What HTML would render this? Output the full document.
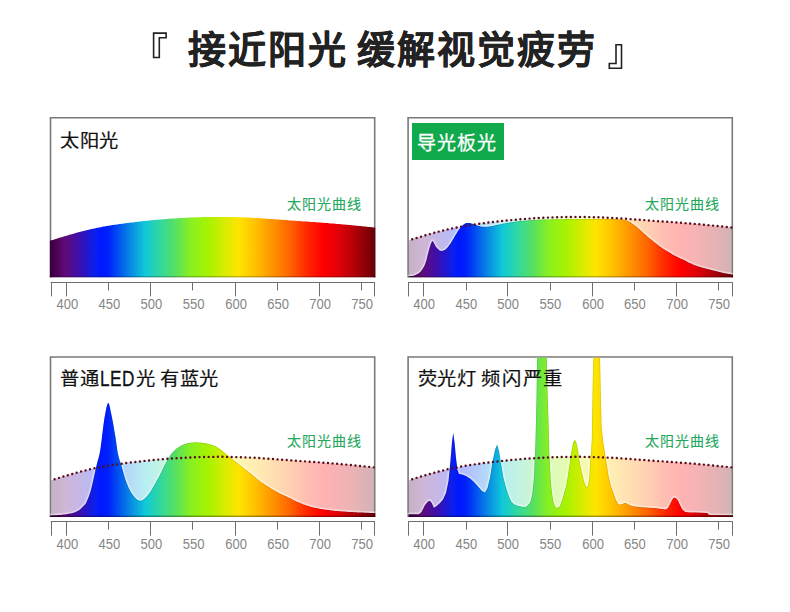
<!DOCTYPE html>
<html lang="zh-CN"><head><meta charset="utf-8"><title>接近阳光 缓解视觉疲劳</title><style>html,body{margin:0;padding:0;background:#fff}body{width:790px;height:612px;overflow:hidden;font-family:"Liberation Sans",sans-serif}svg{display:block}</style></head><body>
<svg width="790" height="612" viewBox="0 0 790 612"><defs><linearGradient id="g" gradientUnits="userSpaceOnUse" x1="50.5" y1="0" x2="374.7" y2="0"><stop offset="0.0000" stop-color="#38003f"/><stop offset="0.0139" stop-color="#48004e"/><stop offset="0.0447" stop-color="#600c78"/><stop offset="0.0922" stop-color="#3a10b0"/><stop offset="0.1391" stop-color="#0820f0"/><stop offset="0.1545" stop-color="#0018ff"/><stop offset="0.1774" stop-color="#0020fc"/><stop offset="0.2014" stop-color="#0044f4"/><stop offset="0.2452" stop-color="#0888e4"/><stop offset="0.2915" stop-color="#10c8d8"/><stop offset="0.3378" stop-color="#30d8a0"/><stop offset="0.3859" stop-color="#58e060"/><stop offset="0.4328" stop-color="#88f020"/><stop offset="0.4920" stop-color="#acf200"/><stop offset="0.5382" stop-color="#d8ec00"/><stop offset="0.5796" stop-color="#ffe400"/><stop offset="0.6326" stop-color="#ffc000"/><stop offset="0.6795" stop-color="#ff9800"/><stop offset="0.7387" stop-color="#ff6400"/><stop offset="0.7890" stop-color="#ff2a00"/><stop offset="0.8393" stop-color="#ff0000"/><stop offset="0.8899" stop-color="#e00008"/><stop offset="0.9402" stop-color="#b00008"/><stop offset="1.0000" stop-color="#680008"/></linearGradient></defs><rect width="790" height="612" fill="#fff"/><path d="M153.6,33.1H166.1V37.7H159.3V57.5H153.6Z" fill="none" stroke="#222" stroke-width="1.6"/><path d="M616,44.7H621.5V68.2H609.3V63.5H616Z" fill="none" stroke="#222" stroke-width="1.6"/><text x="187.5" y="63.2" font-size="38" font-weight="bold" fill="#222" stroke="#222" stroke-width="0.2" letter-spacing="2.1">接近阳光</text><text x="356.6" y="63.2" font-size="38" font-weight="bold" fill="#222" stroke="#222" stroke-width="0.2" letter-spacing="2.1">缓解视觉疲劳</text><g transform="translate(0,0)"><path d="M50.5,277.6V117.7H374.7V277.6" stroke="#7a7a7a" stroke-width="1.6" fill="none"/><clipPath id="c0"><rect x="49.7" y="118.5" width="325.8" height="159.1"/></clipPath><g clip-path="url(#c0)"><path d="M49.7,277.6L49.7,240.6L50.5,240.6L51.5,240.3L52.5,240L53.5,239.7L54.5,239.4L55.5,239.1L56.5,238.7L57.5,238.4L58.5,238.1L59.5,237.8L60.5,237.5L61.5,237.2L62.5,236.9L63.5,236.6L64.5,236.3L65.5,236L66.5,235.7L67.5,235.4L68.5,235.1L69.5,234.8L70.5,234.5L71.5,234.3L72.5,234L73.5,233.7L74.5,233.4L75.5,233.1L76.5,232.8L77.5,232.6L78.5,232.3L79.5,232L80.5,231.8L81.5,231.5L82.5,231.2L83.5,231L84.5,230.7L85.5,230.5L86.5,230.2L87.5,230L88.5,229.8L89.5,229.5L90.5,229.3L91.5,229.1L92.5,228.9L93.5,228.6L94.5,228.4L95.5,228.2L96.5,228L97.5,227.8L98.5,227.6L99.5,227.4L100.5,227.2L101.5,227L102.5,226.8L103.5,226.6L104.5,226.5L105.5,226.3L106.5,226.1L107.5,225.9L108.5,225.8L109.5,225.6L110.5,225.4L111.5,225.3L112.5,225.1L113.5,225L114.5,224.8L115.5,224.7L116.5,224.5L117.5,224.4L118.5,224.2L119.5,224.1L120.5,223.9L121.5,223.8L122.5,223.7L123.5,223.5L124.5,223.4L125.5,223.3L126.5,223.1L127.5,223L128.5,222.9L129.5,222.8L130.5,222.6L131.5,222.5L132.5,222.4L133.5,222.3L134.5,222.2L135.5,222L136.5,221.9L137.5,221.8L138.5,221.7L139.5,221.6L140.5,221.5L141.5,221.3L142.5,221.2L143.5,221.1L144.5,221L145.5,220.9L146.5,220.8L147.5,220.7L148.5,220.6L149.5,220.5L150.5,220.4L151.5,220.3L152.5,220.2L153.5,220.1L154.5,220L155.5,219.9L156.5,219.8L157.5,219.7L158.5,219.7L159.5,219.6L160.5,219.5L161.5,219.4L162.5,219.3L163.5,219.2L164.5,219.2L165.5,219.1L166.5,219L167.5,218.9L168.5,218.8L169.5,218.8L170.5,218.7L171.5,218.6L172.5,218.6L173.5,218.5L174.5,218.4L175.5,218.4L176.5,218.3L177.5,218.2L178.5,218.2L179.5,218.1L180.5,218.1L181.5,218L182.5,217.9L183.5,217.9L184.5,217.8L185.5,217.8L186.5,217.7L187.5,217.7L188.5,217.6L189.5,217.6L190.5,217.6L191.5,217.5L192.5,217.5L193.5,217.4L194.5,217.4L195.5,217.4L196.5,217.3L197.5,217.3L198.5,217.3L199.5,217.2L200.5,217.2L201.5,217.2L202.5,217.1L203.5,217.1L204.5,217.1L205.5,217.1L206.5,217.1L207.5,217L208.5,217L209.5,217L210.5,217L211.5,217L212.5,217L213.5,217L214.5,217L215.5,216.9L216.5,216.9L217.5,216.9L218.5,216.9L219.5,216.9L220.5,216.9L221.5,216.9L222.5,216.9L223.5,216.9L224.5,217L225.5,217L226.5,217L227.5,217L228.5,217L229.5,217L230.5,217L231.5,217.1L232.5,217.1L233.5,217.1L234.5,217.1L235.5,217.1L236.5,217.2L237.5,217.2L238.5,217.2L239.5,217.3L240.5,217.3L241.5,217.3L242.5,217.4L243.5,217.4L244.5,217.4L245.5,217.5L246.5,217.5L247.5,217.6L248.5,217.6L249.5,217.7L250.5,217.7L251.5,217.8L252.5,217.8L253.5,217.9L254.5,217.9L255.5,218L256.5,218L257.5,218.1L258.5,218.1L259.5,218.2L260.5,218.3L261.5,218.3L262.5,218.4L263.5,218.5L264.5,218.5L265.5,218.6L266.5,218.7L267.5,218.7L268.5,218.8L269.5,218.9L270.5,218.9L271.5,219L272.5,219.1L273.5,219.2L274.5,219.2L275.5,219.3L276.5,219.4L277.5,219.5L278.5,219.5L279.5,219.6L280.5,219.7L281.5,219.8L282.5,219.8L283.5,219.9L284.5,220L285.5,220.1L286.5,220.1L287.5,220.2L288.5,220.3L289.5,220.4L290.5,220.4L291.5,220.5L292.5,220.6L293.5,220.7L294.5,220.7L295.5,220.8L296.5,220.9L297.5,220.9L298.5,221L299.5,221.1L300.5,221.2L301.5,221.2L302.5,221.3L303.5,221.4L304.5,221.4L305.5,221.5L306.5,221.6L307.5,221.6L308.5,221.7L309.5,221.8L310.5,221.9L311.5,221.9L312.5,222L313.5,222.1L314.5,222.1L315.5,222.2L316.5,222.3L317.5,222.4L318.5,222.4L319.5,222.5L320.5,222.6L321.5,222.7L322.5,222.7L323.5,222.8L324.5,222.9L325.5,223L326.5,223L327.5,223.1L328.5,223.2L329.5,223.3L330.5,223.4L331.5,223.4L332.5,223.5L333.5,223.6L334.5,223.7L335.5,223.8L336.5,223.9L337.5,223.9L338.5,224L339.5,224.1L340.5,224.2L341.5,224.3L342.5,224.4L343.5,224.5L344.5,224.6L345.5,224.7L346.5,224.7L347.5,224.8L348.5,224.9L349.5,225L350.5,225.1L351.5,225.2L352.5,225.3L353.5,225.4L354.5,225.5L355.5,225.6L356.5,225.7L357.5,225.8L358.5,225.9L359.5,226L360.5,226.1L361.5,226.2L362.5,226.3L363.5,226.4L364.5,226.5L365.5,226.6L366.5,226.7L367.5,226.8L368.5,226.9L369.5,227L370.5,227.1L371.5,227.2L372.5,227.3L373.5,227.4L374.5,227.5L374.7,227.5L375.5,227.5L375.5,277.6Z" fill="url(#g)"/><rect x="49.7" y="276.2" width="325.8" height="1.4" fill="#000" opacity="0.3"/></g><text x="287" y="208.8" font-size="14" fill="#22a85c" stroke="#22a85c" stroke-width="0.1" letter-spacing="1.0">太阳光曲线</text><text transform="translate(60,146.5) scale(1.07,1)" font-size="18" fill="#111" stroke="#111" stroke-width="0.2" letter-spacing="-0.1">太阳光</text><g stroke="#6e6e6e" stroke-width="1.05" fill="none"><path d="M50.7,282.5H375"/><path d="M51.5,282V296.4"/><path d="M66.5,282V296.4"/><path d="M108.5,282V290.4"/><path d="M150.5,282V296.4"/><path d="M192.5,282V290.4"/><path d="M235.5,282V296.4"/><path d="M277.5,282V290.4"/><path d="M319.5,282V296.4"/><path d="M361.5,282V290.4"/><path d="M374.5,282V296.4"/></g><g font-size="14.5" fill="#858585" text-anchor="middle"><text transform="translate(67.3,309.2) scale(0.9,1)">400</text><text transform="translate(109.4,309.2) scale(0.9,1)">450</text><text transform="translate(151.3,309.2) scale(0.9,1)">500</text><text transform="translate(193.6,309.2) scale(0.9,1)">550</text><text transform="translate(236.2,309.2) scale(0.9,1)">600</text><text transform="translate(278.1,309.2) scale(0.9,1)">650</text><text transform="translate(320.2,309.2) scale(0.9,1)">700</text><text transform="translate(362.2,309.2) scale(0.9,1)">750</text></g></g><g transform="translate(357.6,0)"><path d="M50.5,277.6V117.7H374.7V277.6" stroke="#7a7a7a" stroke-width="1.6" fill="none"/><clipPath id="c1"><rect x="49.7" y="118.5" width="325.8" height="159.1"/></clipPath><g clip-path="url(#c1)"><path d="M51.3,277.6L51.3,240.6L51.5,240.3L52.5,240L53.5,239.7L54.5,239.4L55.5,239.1L56.5,238.7L57.5,238.4L58.5,238.1L59.5,237.8L60.5,237.5L61.5,237.2L62.5,236.9L63.5,236.6L64.5,236.3L65.5,236L66.5,235.7L67.5,235.4L68.5,235.1L69.5,234.8L70.5,234.5L71.5,234.3L72.5,234L73.5,233.7L74.5,233.4L75.5,233.1L76.5,232.8L77.5,232.6L78.5,232.3L79.5,232L80.5,231.8L81.5,231.5L82.5,231.2L83.5,231L84.5,230.7L85.5,230.5L86.5,230.2L87.5,230L88.5,229.8L89.5,229.5L90.5,229.3L91.5,229.1L92.5,228.9L93.5,228.6L94.5,228.4L95.5,228.2L96.5,228L97.5,227.8L98.5,227.6L99.5,227.4L100.5,227.2L101.5,227L102.5,226.8L103.5,226.6L104.5,226.5L105.5,226.3L106.5,226.1L107.5,225.9L108.5,225.8L109.5,225.6L110.5,225.4L111.5,225.3L112.5,225.1L113.5,225L114.5,224.8L115.5,224.7L116.5,224.5L117.5,224.4L118.5,224.2L119.5,224.1L120.5,223.9L121.5,223.8L122.5,223.7L123.5,223.5L124.5,223.4L125.5,223.3L126.5,223.1L127.5,223L128.5,222.9L129.5,222.8L130.5,222.6L131.5,222.5L132.5,222.4L133.5,222.3L134.5,222.2L135.5,222L136.5,221.9L137.5,221.8L138.5,221.7L139.5,221.6L140.5,221.5L141.5,221.3L142.5,221.2L143.5,221.1L144.5,221L145.5,220.9L146.5,220.8L147.5,220.7L148.5,220.6L149.5,220.5L150.5,220.4L151.5,220.3L152.5,220.2L153.5,220.1L154.5,220L155.5,219.9L156.5,219.8L157.5,219.7L158.5,219.7L159.5,219.6L160.5,219.5L161.5,219.4L162.5,219.3L163.5,219.2L164.5,219.2L165.5,219.1L166.5,219L167.5,218.9L168.5,218.8L169.5,218.8L170.5,218.7L171.5,218.6L172.5,218.6L173.5,218.5L174.5,218.4L175.5,218.4L176.5,218.3L177.5,218.2L178.5,218.2L179.5,218.1L180.5,218.1L181.5,218L182.5,217.9L183.5,217.9L184.5,217.8L185.5,217.8L186.5,217.7L187.5,217.7L188.5,217.6L189.5,217.6L190.5,217.6L191.5,217.5L192.5,217.5L193.5,217.4L194.5,217.4L195.5,217.4L196.5,217.3L197.5,217.3L198.5,217.3L199.5,217.2L200.5,217.2L201.5,217.2L202.5,217.1L203.5,217.1L204.5,217.1L205.5,217.1L206.5,217.1L207.5,217L208.5,217L209.5,217L210.5,217L211.5,217L212.5,217L213.5,217L214.5,217L215.5,216.9L216.5,216.9L217.5,216.9L218.5,216.9L219.5,216.9L220.5,216.9L221.5,216.9L222.5,216.9L223.5,216.9L224.5,217L225.5,217L226.5,217L227.5,217L228.5,217L229.5,217L230.5,217L231.5,217.1L232.5,217.1L233.5,217.1L234.5,217.1L235.5,217.1L236.5,217.2L237.5,217.2L238.5,217.2L239.5,217.3L240.5,217.3L241.5,217.3L242.5,217.4L243.5,217.4L244.5,217.4L245.5,217.5L246.5,217.5L247.5,217.6L248.5,217.6L249.5,217.7L250.5,217.7L251.5,217.8L252.5,217.8L253.5,217.9L254.5,217.9L255.5,218L256.5,218L257.5,218.1L258.5,218.1L259.5,218.2L260.5,218.3L261.5,218.3L262.5,218.4L263.5,218.5L264.5,218.5L265.5,218.6L266.5,218.7L267.5,218.7L268.5,218.8L269.5,218.9L270.5,218.9L271.5,219L272.5,219.1L273.5,219.2L274.5,219.2L275.5,219.3L276.5,219.4L277.5,219.5L278.5,219.5L279.5,219.6L280.5,219.7L281.5,219.8L282.5,219.8L283.5,219.9L284.5,220L285.5,220.1L286.5,220.1L287.5,220.2L288.5,220.3L289.5,220.4L290.5,220.4L291.5,220.5L292.5,220.6L293.5,220.7L294.5,220.7L295.5,220.8L296.5,220.9L297.5,220.9L298.5,221L299.5,221.1L300.5,221.2L301.5,221.2L302.5,221.3L303.5,221.4L304.5,221.4L305.5,221.5L306.5,221.6L307.5,221.6L308.5,221.7L309.5,221.8L310.5,221.9L311.5,221.9L312.5,222L313.5,222.1L314.5,222.1L315.5,222.2L316.5,222.3L317.5,222.4L318.5,222.4L319.5,222.5L320.5,222.6L321.5,222.7L322.5,222.7L323.5,222.8L324.5,222.9L325.5,223L326.5,223L327.5,223.1L328.5,223.2L329.5,223.3L330.5,223.4L331.5,223.4L332.5,223.5L333.5,223.6L334.5,223.7L335.5,223.8L336.5,223.9L337.5,223.9L338.5,224L339.5,224.1L340.5,224.2L341.5,224.3L342.5,224.4L343.5,224.5L344.5,224.6L345.5,224.7L346.5,224.7L347.5,224.8L348.5,224.9L349.5,225L350.5,225.1L351.5,225.2L352.5,225.3L353.5,225.4L354.5,225.5L355.5,225.6L356.5,225.7L357.5,225.8L358.5,225.9L359.5,226L360.5,226.1L361.5,226.2L362.5,226.3L363.5,226.4L364.5,226.5L365.5,226.6L366.5,226.7L367.5,226.8L368.5,226.9L369.5,227L370.5,227.1L371.5,227.2L372.5,227.3L373.5,227.4L373.9,227.5L373.9,227.5L373.9,277.6Z" fill="url(#g)" opacity="0.3"/><path d="M50.9,277.6L50.9,276.3L51.9,276.3L52.9,276.2L53.9,276.1L54.9,275.9L55.9,275.7L56.9,275.4L57.9,275L58.9,274.6L59.9,274.1L60.9,273.5L61.9,272.7L62.9,271.7L63.9,270.6L64.9,269.1L65.9,267.5L66.9,265.5L67.9,263.1L68.9,259.9L69.9,255.6L70.9,251.7L71.9,248.1L72.9,244.7L73.9,242.2L74.9,241L75.9,242L76.9,244.3L77.9,246L78.9,247.4L79.9,248.6L80.9,249.6L81.9,250.4L82.9,250.7L83.9,250.9L84.9,250.8L85.9,250.6L86.9,250.1L87.9,249.4L88.9,248.6L89.9,247.5L90.9,246.3L91.9,244.8L92.9,243.4L93.9,241.8L94.9,240.2L95.9,238.5L96.9,236.8L97.9,235.1L98.9,233.5L99.9,231.8L100.9,230.3L101.9,228.9L102.9,227.6L103.9,226.5L104.9,225.5L105.9,224.6L106.9,223.9L107.9,223.3L108.9,223L109.9,223L110.9,223L111.9,223L112.9,223.2L113.9,223.5L114.9,223.8L115.9,224.2L116.9,224.5L117.9,224.8L118.9,225.2L119.9,225.6L120.9,225.9L121.9,226.1L122.9,226.4L123.9,226.6L124.9,226.7L125.9,226.7L126.9,226.8L127.9,226.8L128.9,226.8L129.9,226.7L130.9,226.6L131.9,226.4L132.9,226.3L133.9,226.1L134.9,225.9L135.9,225.7L136.9,225.5L137.9,225.3L138.9,225.1L139.9,224.8L140.9,224.6L141.9,224.4L142.9,224.2L143.9,224L144.9,223.8L145.9,223.6L146.9,223.4L147.9,223.2L148.9,223L149.9,222.8L150.9,222.7L151.9,222.5L152.9,222.3L153.9,222.2L154.9,222L155.9,221.9L156.9,221.7L157.9,221.6L158.9,221.5L159.9,221.4L160.9,221.2L161.9,221.1L162.9,221L163.9,220.9L164.9,220.8L165.9,220.7L166.9,220.6L167.9,220.5L168.9,220.4L169.9,220.4L170.9,220.3L171.9,220.2L172.9,220.2L173.9,220.1L174.9,220.1L175.9,220L176.9,220L177.9,219.9L178.9,219.9L179.9,219.8L180.9,219.8L181.9,219.7L182.9,219.7L183.9,219.6L184.9,219.6L185.9,219.5L186.9,219.5L187.9,219.5L188.9,219.5L189.9,219.4L190.9,219.4L191.9,219.4L192.9,219.4L193.9,219.3L194.9,219.3L195.9,219.3L196.9,219.3L197.9,219.3L198.9,219.3L199.9,219.2L200.9,219.2L201.9,219.2L202.9,219.2L203.9,219.2L204.9,219.2L205.9,219.2L206.9,219.1L207.9,219.1L208.9,219.1L209.9,219.1L210.9,219.1L211.9,219.1L212.9,219.1L213.9,219.1L214.9,219L215.9,219L216.9,219L217.9,219L218.9,219L219.9,219L220.9,219L221.9,219L222.9,219L223.9,219L224.9,219L225.9,219L226.9,219L227.9,219L228.9,219L229.9,219L230.9,219L231.9,219L232.9,219L233.9,219L234.9,219L235.9,219L236.9,219L237.9,219L238.9,219L239.9,219L240.9,219L241.9,219L242.9,219L243.9,219L244.9,219L245.9,219L246.9,219L247.9,219L248.9,219L249.9,219L250.9,219L251.9,219L252.9,219L253.9,219.1L254.9,219.1L255.9,219.1L256.9,219.1L257.9,219.1L258.9,219.1L259.9,219.2L260.9,219.2L261.9,219.3L262.9,219.3L263.9,219.4L264.9,219.5L265.9,219.7L266.9,219.9L267.9,220.1L268.9,220.4L269.9,220.8L270.9,221.2L271.9,221.7L272.9,222.3L273.9,222.9L274.9,223.7L275.9,224.4L276.9,225.1L277.9,225.9L278.9,226.7L279.9,227.5L280.9,228.4L281.9,229.3L282.9,230.2L283.9,231.1L284.9,232L285.9,232.9L286.9,233.8L287.9,234.7L288.9,235.6L289.9,236.5L290.9,237.4L291.9,238.2L292.9,239L293.9,239.8L294.9,240.6L295.9,241.4L296.9,242.2L297.9,243L298.9,243.8L299.9,244.6L300.9,245.4L301.9,246.1L302.9,246.9L303.9,247.6L304.9,248.3L305.9,248.9L306.9,249.6L307.9,250.2L308.9,250.7L309.9,251.3L310.9,251.9L311.9,252.5L312.9,253.1L313.9,253.8L314.9,254.4L315.9,255L316.9,255.5L317.9,256L318.9,256.5L319.9,257L320.9,257.5L321.9,257.9L322.9,258.4L323.9,258.9L324.9,259.3L325.9,259.8L326.9,260.3L327.9,260.8L328.9,261.3L329.9,261.9L330.9,262.4L331.9,262.9L332.9,263.3L333.9,263.8L334.9,264.2L335.9,264.7L336.9,265.1L337.9,265.5L338.9,265.8L339.9,266.2L340.9,266.5L341.9,266.8L342.9,267.1L343.9,267.4L344.9,267.7L345.9,268L346.9,268.3L347.9,268.5L348.9,268.8L349.9,269L350.9,269.3L351.9,269.5L352.9,269.8L353.9,270L354.9,270.3L355.9,270.5L356.9,270.8L357.9,271L358.9,271.3L359.9,271.5L360.9,271.8L361.9,272L362.9,272.3L363.9,272.5L364.9,272.7L365.9,272.9L366.9,273.2L367.9,273.4L368.9,273.6L369.9,273.8L370.9,274L371.9,274.1L372.9,274.3L373.9,274.5L374.6,274.6L375.5,274.6L375.5,277.6Z" fill="none" stroke="#fff" stroke-width="3.6" stroke-opacity="0.35" stroke-linejoin="round"/><path d="M50.9,277.6L50.9,276.3L51.9,276.3L52.9,276.2L53.9,276.1L54.9,275.9L55.9,275.7L56.9,275.4L57.9,275L58.9,274.6L59.9,274.1L60.9,273.5L61.9,272.7L62.9,271.7L63.9,270.6L64.9,269.1L65.9,267.5L66.9,265.5L67.9,263.1L68.9,259.9L69.9,255.6L70.9,251.7L71.9,248.1L72.9,244.7L73.9,242.2L74.9,241L75.9,242L76.9,244.3L77.9,246L78.9,247.4L79.9,248.6L80.9,249.6L81.9,250.4L82.9,250.7L83.9,250.9L84.9,250.8L85.9,250.6L86.9,250.1L87.9,249.4L88.9,248.6L89.9,247.5L90.9,246.3L91.9,244.8L92.9,243.4L93.9,241.8L94.9,240.2L95.9,238.5L96.9,236.8L97.9,235.1L98.9,233.5L99.9,231.8L100.9,230.3L101.9,228.9L102.9,227.6L103.9,226.5L104.9,225.5L105.9,224.6L106.9,223.9L107.9,223.3L108.9,223L109.9,223L110.9,223L111.9,223L112.9,223.2L113.9,223.5L114.9,223.8L115.9,224.2L116.9,224.5L117.9,224.8L118.9,225.2L119.9,225.6L120.9,225.9L121.9,226.1L122.9,226.4L123.9,226.6L124.9,226.7L125.9,226.7L126.9,226.8L127.9,226.8L128.9,226.8L129.9,226.7L130.9,226.6L131.9,226.4L132.9,226.3L133.9,226.1L134.9,225.9L135.9,225.7L136.9,225.5L137.9,225.3L138.9,225.1L139.9,224.8L140.9,224.6L141.9,224.4L142.9,224.2L143.9,224L144.9,223.8L145.9,223.6L146.9,223.4L147.9,223.2L148.9,223L149.9,222.8L150.9,222.7L151.9,222.5L152.9,222.3L153.9,222.2L154.9,222L155.9,221.9L156.9,221.7L157.9,221.6L158.9,221.5L159.9,221.4L160.9,221.2L161.9,221.1L162.9,221L163.9,220.9L164.9,220.8L165.9,220.7L166.9,220.6L167.9,220.5L168.9,220.4L169.9,220.4L170.9,220.3L171.9,220.2L172.9,220.2L173.9,220.1L174.9,220.1L175.9,220L176.9,220L177.9,219.9L178.9,219.9L179.9,219.8L180.9,219.8L181.9,219.7L182.9,219.7L183.9,219.6L184.9,219.6L185.9,219.5L186.9,219.5L187.9,219.5L188.9,219.5L189.9,219.4L190.9,219.4L191.9,219.4L192.9,219.4L193.9,219.3L194.9,219.3L195.9,219.3L196.9,219.3L197.9,219.3L198.9,219.3L199.9,219.2L200.9,219.2L201.9,219.2L202.9,219.2L203.9,219.2L204.9,219.2L205.9,219.2L206.9,219.1L207.9,219.1L208.9,219.1L209.9,219.1L210.9,219.1L211.9,219.1L212.9,219.1L213.9,219.1L214.9,219L215.9,219L216.9,219L217.9,219L218.9,219L219.9,219L220.9,219L221.9,219L222.9,219L223.9,219L224.9,219L225.9,219L226.9,219L227.9,219L228.9,219L229.9,219L230.9,219L231.9,219L232.9,219L233.9,219L234.9,219L235.9,219L236.9,219L237.9,219L238.9,219L239.9,219L240.9,219L241.9,219L242.9,219L243.9,219L244.9,219L245.9,219L246.9,219L247.9,219L248.9,219L249.9,219L250.9,219L251.9,219L252.9,219L253.9,219.1L254.9,219.1L255.9,219.1L256.9,219.1L257.9,219.1L258.9,219.1L259.9,219.2L260.9,219.2L261.9,219.3L262.9,219.3L263.9,219.4L264.9,219.5L265.9,219.7L266.9,219.9L267.9,220.1L268.9,220.4L269.9,220.8L270.9,221.2L271.9,221.7L272.9,222.3L273.9,222.9L274.9,223.7L275.9,224.4L276.9,225.1L277.9,225.9L278.9,226.7L279.9,227.5L280.9,228.4L281.9,229.3L282.9,230.2L283.9,231.1L284.9,232L285.9,232.9L286.9,233.8L287.9,234.7L288.9,235.6L289.9,236.5L290.9,237.4L291.9,238.2L292.9,239L293.9,239.8L294.9,240.6L295.9,241.4L296.9,242.2L297.9,243L298.9,243.8L299.9,244.6L300.9,245.4L301.9,246.1L302.9,246.9L303.9,247.6L304.9,248.3L305.9,248.9L306.9,249.6L307.9,250.2L308.9,250.7L309.9,251.3L310.9,251.9L311.9,252.5L312.9,253.1L313.9,253.8L314.9,254.4L315.9,255L316.9,255.5L317.9,256L318.9,256.5L319.9,257L320.9,257.5L321.9,257.9L322.9,258.4L323.9,258.9L324.9,259.3L325.9,259.8L326.9,260.3L327.9,260.8L328.9,261.3L329.9,261.9L330.9,262.4L331.9,262.9L332.9,263.3L333.9,263.8L334.9,264.2L335.9,264.7L336.9,265.1L337.9,265.5L338.9,265.8L339.9,266.2L340.9,266.5L341.9,266.8L342.9,267.1L343.9,267.4L344.9,267.7L345.9,268L346.9,268.3L347.9,268.5L348.9,268.8L349.9,269L350.9,269.3L351.9,269.5L352.9,269.8L353.9,270L354.9,270.3L355.9,270.5L356.9,270.8L357.9,271L358.9,271.3L359.9,271.5L360.9,271.8L361.9,272L362.9,272.3L363.9,272.5L364.9,272.7L365.9,272.9L366.9,273.2L367.9,273.4L368.9,273.6L369.9,273.8L370.9,274L371.9,274.1L372.9,274.3L373.9,274.5L374.6,274.6L375.5,274.6L375.5,277.6Z" fill="none" stroke="#fff" stroke-width="1.6" stroke-opacity="0.3" stroke-linejoin="round"/><clipPath id="s1"><path d="M50.9,277.6L50.9,276.3L51.9,276.3L52.9,276.2L53.9,276.1L54.9,275.9L55.9,275.7L56.9,275.4L57.9,275L58.9,274.6L59.9,274.1L60.9,273.5L61.9,272.7L62.9,271.7L63.9,270.6L64.9,269.1L65.9,267.5L66.9,265.5L67.9,263.1L68.9,259.9L69.9,255.6L70.9,251.7L71.9,248.1L72.9,244.7L73.9,242.2L74.9,241L75.9,242L76.9,244.3L77.9,246L78.9,247.4L79.9,248.6L80.9,249.6L81.9,250.4L82.9,250.7L83.9,250.9L84.9,250.8L85.9,250.6L86.9,250.1L87.9,249.4L88.9,248.6L89.9,247.5L90.9,246.3L91.9,244.8L92.9,243.4L93.9,241.8L94.9,240.2L95.9,238.5L96.9,236.8L97.9,235.1L98.9,233.5L99.9,231.8L100.9,230.3L101.9,228.9L102.9,227.6L103.9,226.5L104.9,225.5L105.9,224.6L106.9,223.9L107.9,223.3L108.9,223L109.9,223L110.9,223L111.9,223L112.9,223.2L113.9,223.5L114.9,223.8L115.9,224.2L116.9,224.5L117.9,224.8L118.9,225.2L119.9,225.6L120.9,225.9L121.9,226.1L122.9,226.4L123.9,226.6L124.9,226.7L125.9,226.7L126.9,226.8L127.9,226.8L128.9,226.8L129.9,226.7L130.9,226.6L131.9,226.4L132.9,226.3L133.9,226.1L134.9,225.9L135.9,225.7L136.9,225.5L137.9,225.3L138.9,225.1L139.9,224.8L140.9,224.6L141.9,224.4L142.9,224.2L143.9,224L144.9,223.8L145.9,223.6L146.9,223.4L147.9,223.2L148.9,223L149.9,222.8L150.9,222.7L151.9,222.5L152.9,222.3L153.9,222.2L154.9,222L155.9,221.9L156.9,221.7L157.9,221.6L158.9,221.5L159.9,221.4L160.9,221.2L161.9,221.1L162.9,221L163.9,220.9L164.9,220.8L165.9,220.7L166.9,220.6L167.9,220.5L168.9,220.4L169.9,220.4L170.9,220.3L171.9,220.2L172.9,220.2L173.9,220.1L174.9,220.1L175.9,220L176.9,220L177.9,219.9L178.9,219.9L179.9,219.8L180.9,219.8L181.9,219.7L182.9,219.7L183.9,219.6L184.9,219.6L185.9,219.5L186.9,219.5L187.9,219.5L188.9,219.5L189.9,219.4L190.9,219.4L191.9,219.4L192.9,219.4L193.9,219.3L194.9,219.3L195.9,219.3L196.9,219.3L197.9,219.3L198.9,219.3L199.9,219.2L200.9,219.2L201.9,219.2L202.9,219.2L203.9,219.2L204.9,219.2L205.9,219.2L206.9,219.1L207.9,219.1L208.9,219.1L209.9,219.1L210.9,219.1L211.9,219.1L212.9,219.1L213.9,219.1L214.9,219L215.9,219L216.9,219L217.9,219L218.9,219L219.9,219L220.9,219L221.9,219L222.9,219L223.9,219L224.9,219L225.9,219L226.9,219L227.9,219L228.9,219L229.9,219L230.9,219L231.9,219L232.9,219L233.9,219L234.9,219L235.9,219L236.9,219L237.9,219L238.9,219L239.9,219L240.9,219L241.9,219L242.9,219L243.9,219L244.9,219L245.9,219L246.9,219L247.9,219L248.9,219L249.9,219L250.9,219L251.9,219L252.9,219L253.9,219.1L254.9,219.1L255.9,219.1L256.9,219.1L257.9,219.1L258.9,219.1L259.9,219.2L260.9,219.2L261.9,219.3L262.9,219.3L263.9,219.4L264.9,219.5L265.9,219.7L266.9,219.9L267.9,220.1L268.9,220.4L269.9,220.8L270.9,221.2L271.9,221.7L272.9,222.3L273.9,222.9L274.9,223.7L275.9,224.4L276.9,225.1L277.9,225.9L278.9,226.7L279.9,227.5L280.9,228.4L281.9,229.3L282.9,230.2L283.9,231.1L284.9,232L285.9,232.9L286.9,233.8L287.9,234.7L288.9,235.6L289.9,236.5L290.9,237.4L291.9,238.2L292.9,239L293.9,239.8L294.9,240.6L295.9,241.4L296.9,242.2L297.9,243L298.9,243.8L299.9,244.6L300.9,245.4L301.9,246.1L302.9,246.9L303.9,247.6L304.9,248.3L305.9,248.9L306.9,249.6L307.9,250.2L308.9,250.7L309.9,251.3L310.9,251.9L311.9,252.5L312.9,253.1L313.9,253.8L314.9,254.4L315.9,255L316.9,255.5L317.9,256L318.9,256.5L319.9,257L320.9,257.5L321.9,257.9L322.9,258.4L323.9,258.9L324.9,259.3L325.9,259.8L326.9,260.3L327.9,260.8L328.9,261.3L329.9,261.9L330.9,262.4L331.9,262.9L332.9,263.3L333.9,263.8L334.9,264.2L335.9,264.7L336.9,265.1L337.9,265.5L338.9,265.8L339.9,266.2L340.9,266.5L341.9,266.8L342.9,267.1L343.9,267.4L344.9,267.7L345.9,268L346.9,268.3L347.9,268.5L348.9,268.8L349.9,269L350.9,269.3L351.9,269.5L352.9,269.8L353.9,270L354.9,270.3L355.9,270.5L356.9,270.8L357.9,271L358.9,271.3L359.9,271.5L360.9,271.8L361.9,272L362.9,272.3L363.9,272.5L364.9,272.7L365.9,272.9L366.9,273.2L367.9,273.4L368.9,273.6L369.9,273.8L370.9,274L371.9,274.1L372.9,274.3L373.9,274.5L374.6,274.6L375.5,274.6L375.5,277.6Z"/></clipPath><path d="M50.9,277.6L50.9,276.3L51.9,276.3L52.9,276.2L53.9,276.1L54.9,275.9L55.9,275.7L56.9,275.4L57.9,275L58.9,274.6L59.9,274.1L60.9,273.5L61.9,272.7L62.9,271.7L63.9,270.6L64.9,269.1L65.9,267.5L66.9,265.5L67.9,263.1L68.9,259.9L69.9,255.6L70.9,251.7L71.9,248.1L72.9,244.7L73.9,242.2L74.9,241L75.9,242L76.9,244.3L77.9,246L78.9,247.4L79.9,248.6L80.9,249.6L81.9,250.4L82.9,250.7L83.9,250.9L84.9,250.8L85.9,250.6L86.9,250.1L87.9,249.4L88.9,248.6L89.9,247.5L90.9,246.3L91.9,244.8L92.9,243.4L93.9,241.8L94.9,240.2L95.9,238.5L96.9,236.8L97.9,235.1L98.9,233.5L99.9,231.8L100.9,230.3L101.9,228.9L102.9,227.6L103.9,226.5L104.9,225.5L105.9,224.6L106.9,223.9L107.9,223.3L108.9,223L109.9,223L110.9,223L111.9,223L112.9,223.2L113.9,223.5L114.9,223.8L115.9,224.2L116.9,224.5L117.9,224.8L118.9,225.2L119.9,225.6L120.9,225.9L121.9,226.1L122.9,226.4L123.9,226.6L124.9,226.7L125.9,226.7L126.9,226.8L127.9,226.8L128.9,226.8L129.9,226.7L130.9,226.6L131.9,226.4L132.9,226.3L133.9,226.1L134.9,225.9L135.9,225.7L136.9,225.5L137.9,225.3L138.9,225.1L139.9,224.8L140.9,224.6L141.9,224.4L142.9,224.2L143.9,224L144.9,223.8L145.9,223.6L146.9,223.4L147.9,223.2L148.9,223L149.9,222.8L150.9,222.7L151.9,222.5L152.9,222.3L153.9,222.2L154.9,222L155.9,221.9L156.9,221.7L157.9,221.6L158.9,221.5L159.9,221.4L160.9,221.2L161.9,221.1L162.9,221L163.9,220.9L164.9,220.8L165.9,220.7L166.9,220.6L167.9,220.5L168.9,220.4L169.9,220.4L170.9,220.3L171.9,220.2L172.9,220.2L173.9,220.1L174.9,220.1L175.9,220L176.9,220L177.9,219.9L178.9,219.9L179.9,219.8L180.9,219.8L181.9,219.7L182.9,219.7L183.9,219.6L184.9,219.6L185.9,219.5L186.9,219.5L187.9,219.5L188.9,219.5L189.9,219.4L190.9,219.4L191.9,219.4L192.9,219.4L193.9,219.3L194.9,219.3L195.9,219.3L196.9,219.3L197.9,219.3L198.9,219.3L199.9,219.2L200.9,219.2L201.9,219.2L202.9,219.2L203.9,219.2L204.9,219.2L205.9,219.2L206.9,219.1L207.9,219.1L208.9,219.1L209.9,219.1L210.9,219.1L211.9,219.1L212.9,219.1L213.9,219.1L214.9,219L215.9,219L216.9,219L217.9,219L218.9,219L219.9,219L220.9,219L221.9,219L222.9,219L223.9,219L224.9,219L225.9,219L226.9,219L227.9,219L228.9,219L229.9,219L230.9,219L231.9,219L232.9,219L233.9,219L234.9,219L235.9,219L236.9,219L237.9,219L238.9,219L239.9,219L240.9,219L241.9,219L242.9,219L243.9,219L244.9,219L245.9,219L246.9,219L247.9,219L248.9,219L249.9,219L250.9,219L251.9,219L252.9,219L253.9,219.1L254.9,219.1L255.9,219.1L256.9,219.1L257.9,219.1L258.9,219.1L259.9,219.2L260.9,219.2L261.9,219.3L262.9,219.3L263.9,219.4L264.9,219.5L265.9,219.7L266.9,219.9L267.9,220.1L268.9,220.4L269.9,220.8L270.9,221.2L271.9,221.7L272.9,222.3L273.9,222.9L274.9,223.7L275.9,224.4L276.9,225.1L277.9,225.9L278.9,226.7L279.9,227.5L280.9,228.4L281.9,229.3L282.9,230.2L283.9,231.1L284.9,232L285.9,232.9L286.9,233.8L287.9,234.7L288.9,235.6L289.9,236.5L290.9,237.4L291.9,238.2L292.9,239L293.9,239.8L294.9,240.6L295.9,241.4L296.9,242.2L297.9,243L298.9,243.8L299.9,244.6L300.9,245.4L301.9,246.1L302.9,246.9L303.9,247.6L304.9,248.3L305.9,248.9L306.9,249.6L307.9,250.2L308.9,250.7L309.9,251.3L310.9,251.9L311.9,252.5L312.9,253.1L313.9,253.8L314.9,254.4L315.9,255L316.9,255.5L317.9,256L318.9,256.5L319.9,257L320.9,257.5L321.9,257.9L322.9,258.4L323.9,258.9L324.9,259.3L325.9,259.8L326.9,260.3L327.9,260.8L328.9,261.3L329.9,261.9L330.9,262.4L331.9,262.9L332.9,263.3L333.9,263.8L334.9,264.2L335.9,264.7L336.9,265.1L337.9,265.5L338.9,265.8L339.9,266.2L340.9,266.5L341.9,266.8L342.9,267.1L343.9,267.4L344.9,267.7L345.9,268L346.9,268.3L347.9,268.5L348.9,268.8L349.9,269L350.9,269.3L351.9,269.5L352.9,269.8L353.9,270L354.9,270.3L355.9,270.5L356.9,270.8L357.9,271L358.9,271.3L359.9,271.5L360.9,271.8L361.9,272L362.9,272.3L363.9,272.5L364.9,272.7L365.9,272.9L366.9,273.2L367.9,273.4L368.9,273.6L369.9,273.8L370.9,274L371.9,274.1L372.9,274.3L373.9,274.5L374.6,274.6L375.5,274.6L375.5,277.6Z" fill="url(#g)"/><path d="M50.9,277.6L50.9,276.3L51.9,276.3L52.9,276.2L53.9,276.1L54.9,275.9L55.9,275.7L56.9,275.4L57.9,275L58.9,274.6L59.9,274.1L60.9,273.5L61.9,272.7L62.9,271.7L63.9,270.6L64.9,269.1L65.9,267.5L66.9,265.5L67.9,263.1L68.9,259.9L69.9,255.6L70.9,251.7L71.9,248.1L72.9,244.7L73.9,242.2L74.9,241L75.9,242L76.9,244.3L77.9,246L78.9,247.4L79.9,248.6L80.9,249.6L81.9,250.4L82.9,250.7L83.9,250.9L84.9,250.8L85.9,250.6L86.9,250.1L87.9,249.4L88.9,248.6L89.9,247.5L90.9,246.3L91.9,244.8L92.9,243.4L93.9,241.8L94.9,240.2L95.9,238.5L96.9,236.8L97.9,235.1L98.9,233.5L99.9,231.8L100.9,230.3L101.9,228.9L102.9,227.6L103.9,226.5L104.9,225.5L105.9,224.6L106.9,223.9L107.9,223.3L108.9,223L109.9,223L110.9,223L111.9,223L112.9,223.2L113.9,223.5L114.9,223.8L115.9,224.2L116.9,224.5L117.9,224.8L118.9,225.2L119.9,225.6L120.9,225.9L121.9,226.1L122.9,226.4L123.9,226.6L124.9,226.7L125.9,226.7L126.9,226.8L127.9,226.8L128.9,226.8L129.9,226.7L130.9,226.6L131.9,226.4L132.9,226.3L133.9,226.1L134.9,225.9L135.9,225.7L136.9,225.5L137.9,225.3L138.9,225.1L139.9,224.8L140.9,224.6L141.9,224.4L142.9,224.2L143.9,224L144.9,223.8L145.9,223.6L146.9,223.4L147.9,223.2L148.9,223L149.9,222.8L150.9,222.7L151.9,222.5L152.9,222.3L153.9,222.2L154.9,222L155.9,221.9L156.9,221.7L157.9,221.6L158.9,221.5L159.9,221.4L160.9,221.2L161.9,221.1L162.9,221L163.9,220.9L164.9,220.8L165.9,220.7L166.9,220.6L167.9,220.5L168.9,220.4L169.9,220.4L170.9,220.3L171.9,220.2L172.9,220.2L173.9,220.1L174.9,220.1L175.9,220L176.9,220L177.9,219.9L178.9,219.9L179.9,219.8L180.9,219.8L181.9,219.7L182.9,219.7L183.9,219.6L184.9,219.6L185.9,219.5L186.9,219.5L187.9,219.5L188.9,219.5L189.9,219.4L190.9,219.4L191.9,219.4L192.9,219.4L193.9,219.3L194.9,219.3L195.9,219.3L196.9,219.3L197.9,219.3L198.9,219.3L199.9,219.2L200.9,219.2L201.9,219.2L202.9,219.2L203.9,219.2L204.9,219.2L205.9,219.2L206.9,219.1L207.9,219.1L208.9,219.1L209.9,219.1L210.9,219.1L211.9,219.1L212.9,219.1L213.9,219.1L214.9,219L215.9,219L216.9,219L217.9,219L218.9,219L219.9,219L220.9,219L221.9,219L222.9,219L223.9,219L224.9,219L225.9,219L226.9,219L227.9,219L228.9,219L229.9,219L230.9,219L231.9,219L232.9,219L233.9,219L234.9,219L235.9,219L236.9,219L237.9,219L238.9,219L239.9,219L240.9,219L241.9,219L242.9,219L243.9,219L244.9,219L245.9,219L246.9,219L247.9,219L248.9,219L249.9,219L250.9,219L251.9,219L252.9,219L253.9,219.1L254.9,219.1L255.9,219.1L256.9,219.1L257.9,219.1L258.9,219.1L259.9,219.2L260.9,219.2L261.9,219.3L262.9,219.3L263.9,219.4L264.9,219.5L265.9,219.7L266.9,219.9L267.9,220.1L268.9,220.4L269.9,220.8L270.9,221.2L271.9,221.7L272.9,222.3L273.9,222.9L274.9,223.7L275.9,224.4L276.9,225.1L277.9,225.9L278.9,226.7L279.9,227.5L280.9,228.4L281.9,229.3L282.9,230.2L283.9,231.1L284.9,232L285.9,232.9L286.9,233.8L287.9,234.7L288.9,235.6L289.9,236.5L290.9,237.4L291.9,238.2L292.9,239L293.9,239.8L294.9,240.6L295.9,241.4L296.9,242.2L297.9,243L298.9,243.8L299.9,244.6L300.9,245.4L301.9,246.1L302.9,246.9L303.9,247.6L304.9,248.3L305.9,248.9L306.9,249.6L307.9,250.2L308.9,250.7L309.9,251.3L310.9,251.9L311.9,252.5L312.9,253.1L313.9,253.8L314.9,254.4L315.9,255L316.9,255.5L317.9,256L318.9,256.5L319.9,257L320.9,257.5L321.9,257.9L322.9,258.4L323.9,258.9L324.9,259.3L325.9,259.8L326.9,260.3L327.9,260.8L328.9,261.3L329.9,261.9L330.9,262.4L331.9,262.9L332.9,263.3L333.9,263.8L334.9,264.2L335.9,264.7L336.9,265.1L337.9,265.5L338.9,265.8L339.9,266.2L340.9,266.5L341.9,266.8L342.9,267.1L343.9,267.4L344.9,267.7L345.9,268L346.9,268.3L347.9,268.5L348.9,268.8L349.9,269L350.9,269.3L351.9,269.5L352.9,269.8L353.9,270L354.9,270.3L355.9,270.5L356.9,270.8L357.9,271L358.9,271.3L359.9,271.5L360.9,271.8L361.9,272L362.9,272.3L363.9,272.5L364.9,272.7L365.9,272.9L366.9,273.2L367.9,273.4L368.9,273.6L369.9,273.8L370.9,274L371.9,274.1L372.9,274.3L373.9,274.5L374.6,274.6L375.5,274.6L375.5,277.6Z" fill="none" stroke="#000" stroke-opacity="0.12" stroke-width="1.4" clip-path="url(#s1)"/><rect x="49.7" y="276.2" width="325.8" height="1.4" fill="#000" opacity="0.3"/></g><text x="287" y="208.8" font-size="14" fill="#22a85c" stroke="#22a85c" stroke-width="0.1" letter-spacing="1.0">太阳光曲线</text><path d="M54.6,239.3L55.5,239.1L56.5,238.7L57.5,238.4L58.5,238.1L59.5,237.8L60.5,237.5L61.5,237.2L62.5,236.9L63.5,236.6L64.5,236.3L65.5,236L66.5,235.7L67.5,235.4L68.5,235.1L69.5,234.8L70.5,234.5L71.5,234.3L72.5,234L73.5,233.7L74.5,233.4L75.5,233.1L76.5,232.8L77.5,232.6L78.5,232.3L79.5,232L80.5,231.8L81.5,231.5L82.5,231.2L83.5,231L84.5,230.7L85.5,230.5L86.5,230.2L87.5,230L88.5,229.8L89.5,229.5L90.5,229.3L91.5,229.1L92.5,228.9L93.5,228.6L94.5,228.4L95.5,228.2L96.5,228L97.5,227.8L98.5,227.6L99.5,227.4L100.5,227.2L101.5,227L102.5,226.8L103.5,226.6L104.5,226.5L105.5,226.3L106.5,226.1L107.5,225.9L108.5,225.8L109.5,225.6L110.5,225.4L111.5,225.3L112.5,225.1L113.5,225L114.5,224.8L115.5,224.7L116.5,224.5L117.5,224.4L118.5,224.2L119.5,224.1L120.5,223.9L121.5,223.8L122.5,223.7L123.5,223.5L124.5,223.4L125.5,223.3L126.5,223.1L127.5,223L128.5,222.9L129.5,222.8L130.5,222.6L131.5,222.5L132.5,222.4L133.5,222.3L134.5,222.2L135.5,222L136.5,221.9L137.5,221.8L138.5,221.7L139.5,221.6L140.5,221.5L141.5,221.3L142.5,221.2L143.5,221.1L144.5,221L145.5,220.9L146.5,220.8L147.5,220.7L148.5,220.6L149.5,220.5L150.5,220.4L151.5,220.3L152.5,220.2L153.5,220.1L154.5,220L155.5,219.9L156.5,219.8L157.5,219.7L158.5,219.7L159.5,219.6L160.5,219.5L161.5,219.4L162.5,219.3L163.5,219.2L164.5,219.2L165.5,219.1L166.5,219L167.5,218.9L168.5,218.8L169.5,218.8L170.5,218.7L171.5,218.6L172.5,218.6L173.5,218.5L174.5,218.4L175.5,218.4L176.5,218.3L177.5,218.2L178.5,218.2L179.5,218.1L180.5,218.1L181.5,218L182.5,217.9L183.5,217.9L184.5,217.8L185.5,217.8L186.5,217.7L187.5,217.7L188.5,217.6L189.5,217.6L190.5,217.6L191.5,217.5L192.5,217.5L193.5,217.4L194.5,217.4L195.5,217.4L196.5,217.3L197.5,217.3L198.5,217.3L199.5,217.2L200.5,217.2L201.5,217.2L202.5,217.1L203.5,217.1L204.5,217.1L205.5,217.1L206.5,217.1L207.5,217L208.5,217L209.5,217L210.5,217L211.5,217L212.5,217L213.5,217L214.5,217L215.5,216.9L216.5,216.9L217.5,216.9L218.5,216.9L219.5,216.9L220.5,216.9L221.5,216.9L222.5,216.9L223.5,216.9L224.5,217L225.5,217L226.5,217L227.5,217L228.5,217L229.5,217L230.5,217L231.5,217.1L232.5,217.1L233.5,217.1L234.5,217.1L235.5,217.1L236.5,217.2L237.5,217.2L238.5,217.2L239.5,217.3L240.5,217.3L241.5,217.3L242.5,217.4L243.5,217.4L244.5,217.4L245.5,217.5L246.5,217.5L247.5,217.6L248.5,217.6L249.5,217.7L250.5,217.7L251.5,217.8L252.5,217.8L253.5,217.9L254.5,217.9L255.5,218L256.5,218L257.5,218.1L258.5,218.1L259.5,218.2L260.5,218.3L261.5,218.3L262.5,218.4L263.5,218.5L264.5,218.5L265.5,218.6L266.5,218.7L267.5,218.7L268.5,218.8L269.5,218.9L270.5,218.9L271.5,219L272.5,219.1L273.5,219.2L274.5,219.2L275.5,219.3L276.5,219.4L277.5,219.5L278.5,219.5L279.5,219.6L280.5,219.7L281.5,219.8L282.5,219.8L283.5,219.9L284.5,220L285.5,220.1L286.5,220.1L287.5,220.2L288.5,220.3L289.5,220.4L290.5,220.4L291.5,220.5L292.5,220.6L293.5,220.7L294.5,220.7L295.5,220.8L296.5,220.9L297.5,220.9L298.5,221L299.5,221.1L300.5,221.2L301.5,221.2L302.5,221.3L303.5,221.4L304.5,221.4L305.5,221.5L306.5,221.6L307.5,221.6L308.5,221.7L309.5,221.8L310.5,221.9L311.5,221.9L312.5,222L313.5,222.1L314.5,222.1L315.5,222.2L316.5,222.3L317.5,222.4L318.5,222.4L319.5,222.5L320.5,222.6L321.5,222.7L322.5,222.7L323.5,222.8L324.5,222.9L325.5,223L326.5,223L327.5,223.1L328.5,223.2L329.5,223.3L330.5,223.4L331.5,223.4L332.5,223.5L333.5,223.6L334.5,223.7L335.5,223.8L336.5,223.9L337.5,223.9L338.5,224L339.5,224.1L340.5,224.2L341.5,224.3L342.5,224.4L343.5,224.5L344.5,224.6L345.5,224.7L346.5,224.7L347.5,224.8L348.5,224.9L349.5,225L350.5,225.1L351.5,225.2L352.5,225.3L353.5,225.4L354.5,225.5L355.5,225.6L356.5,225.7L357.5,225.8L358.5,225.9L359.5,226L360.5,226.1L361.5,226.2L362.5,226.3L363.5,226.4L364.5,226.5L365.5,226.6L366.5,226.7L367.5,226.8L368.5,226.9L369.5,227L370.5,227.1L371.5,227.2L372.5,227.3L373.5,227.4L374.5,227.5L374.7,227.5" stroke="#5a0c1a" stroke-width="2.4" stroke-linecap="round" stroke-dasharray="0 4.6" fill="none"/><rect x="54.4" y="123" width="92" height="37" fill="#10a94b"/><text x="59.9" y="150" font-size="19" fill="#fff" stroke="#fff" stroke-width="0.3" letter-spacing="0.8">导光板光</text><g stroke="#6e6e6e" stroke-width="1.05" fill="none"><path d="M50.7,282.5H375"/><path d="M50.9,282V296.4"/><path d="M65.9,282V296.4"/><path d="M108.9,282V290.4"/><path d="M149.9,282V296.4"/><path d="M192.9,282V290.4"/><path d="M234.9,282V296.4"/><path d="M276.9,282V290.4"/><path d="M318.9,282V296.4"/><path d="M360.9,282V290.4"/><path d="M374.9,282V296.4"/></g><g font-size="14.5" fill="#858585" text-anchor="middle"><text transform="translate(66.6,309.2) scale(0.9,1)">400</text><text transform="translate(108.7,309.2) scale(0.9,1)">450</text><text transform="translate(150.6,309.2) scale(0.9,1)">500</text><text transform="translate(192.9,309.2) scale(0.9,1)">550</text><text transform="translate(235.5,309.2) scale(0.9,1)">600</text><text transform="translate(277.4,309.2) scale(0.9,1)">650</text><text transform="translate(319.5,309.2) scale(0.9,1)">700</text><text transform="translate(361.5,309.2) scale(0.9,1)">750</text></g></g><g transform="translate(0,239.3)"><path d="M50.5,277.6V117.7H374.7V277.6" stroke="#7a7a7a" stroke-width="1.6" fill="none"/><clipPath id="c2"><rect x="49.7" y="118.5" width="325.8" height="159.1"/></clipPath><g clip-path="url(#c2)"><path d="M51.3,277.6L51.3,240.6L51.5,240.3L52.5,240L53.5,239.7L54.5,239.4L55.5,239.1L56.5,238.7L57.5,238.4L58.5,238.1L59.5,237.8L60.5,237.5L61.5,237.2L62.5,236.9L63.5,236.6L64.5,236.3L65.5,236L66.5,235.7L67.5,235.4L68.5,235.1L69.5,234.8L70.5,234.5L71.5,234.3L72.5,234L73.5,233.7L74.5,233.4L75.5,233.1L76.5,232.8L77.5,232.6L78.5,232.3L79.5,232L80.5,231.8L81.5,231.5L82.5,231.2L83.5,231L84.5,230.7L85.5,230.5L86.5,230.2L87.5,230L88.5,229.8L89.5,229.5L90.5,229.3L91.5,229.1L92.5,228.9L93.5,228.6L94.5,228.4L95.5,228.2L96.5,228L97.5,227.8L98.5,227.6L99.5,227.4L100.5,227.2L101.5,227L102.5,226.8L103.5,226.6L104.5,226.5L105.5,226.3L106.5,226.1L107.5,225.9L108.5,225.8L109.5,225.6L110.5,225.4L111.5,225.3L112.5,225.1L113.5,225L114.5,224.8L115.5,224.7L116.5,224.5L117.5,224.4L118.5,224.2L119.5,224.1L120.5,223.9L121.5,223.8L122.5,223.7L123.5,223.5L124.5,223.4L125.5,223.3L126.5,223.1L127.5,223L128.5,222.9L129.5,222.8L130.5,222.6L131.5,222.5L132.5,222.4L133.5,222.3L134.5,222.2L135.5,222L136.5,221.9L137.5,221.8L138.5,221.7L139.5,221.6L140.5,221.5L141.5,221.3L142.5,221.2L143.5,221.1L144.5,221L145.5,220.9L146.5,220.8L147.5,220.7L148.5,220.6L149.5,220.5L150.5,220.4L151.5,220.3L152.5,220.2L153.5,220.1L154.5,220L155.5,219.9L156.5,219.8L157.5,219.7L158.5,219.7L159.5,219.6L160.5,219.5L161.5,219.4L162.5,219.3L163.5,219.2L164.5,219.2L165.5,219.1L166.5,219L167.5,218.9L168.5,218.8L169.5,218.8L170.5,218.7L171.5,218.6L172.5,218.6L173.5,218.5L174.5,218.4L175.5,218.4L176.5,218.3L177.5,218.2L178.5,218.2L179.5,218.1L180.5,218.1L181.5,218L182.5,217.9L183.5,217.9L184.5,217.8L185.5,217.8L186.5,217.7L187.5,217.7L188.5,217.6L189.5,217.6L190.5,217.6L191.5,217.5L192.5,217.5L193.5,217.4L194.5,217.4L195.5,217.4L196.5,217.3L197.5,217.3L198.5,217.3L199.5,217.2L200.5,217.2L201.5,217.2L202.5,217.1L203.5,217.1L204.5,217.1L205.5,217.1L206.5,217.1L207.5,217L208.5,217L209.5,217L210.5,217L211.5,217L212.5,217L213.5,217L214.5,217L215.5,216.9L216.5,216.9L217.5,216.9L218.5,216.9L219.5,216.9L220.5,216.9L221.5,216.9L222.5,216.9L223.5,216.9L224.5,217L225.5,217L226.5,217L227.5,217L228.5,217L229.5,217L230.5,217L231.5,217.1L232.5,217.1L233.5,217.1L234.5,217.1L235.5,217.1L236.5,217.2L237.5,217.2L238.5,217.2L239.5,217.3L240.5,217.3L241.5,217.3L242.5,217.4L243.5,217.4L244.5,217.4L245.5,217.5L246.5,217.5L247.5,217.6L248.5,217.6L249.5,217.7L250.5,217.7L251.5,217.8L252.5,217.8L253.5,217.9L254.5,217.9L255.5,218L256.5,218L257.5,218.1L258.5,218.1L259.5,218.2L260.5,218.3L261.5,218.3L262.5,218.4L263.5,218.5L264.5,218.5L265.5,218.6L266.5,218.7L267.5,218.7L268.5,218.8L269.5,218.9L270.5,218.9L271.5,219L272.5,219.1L273.5,219.2L274.5,219.2L275.5,219.3L276.5,219.4L277.5,219.5L278.5,219.5L279.5,219.6L280.5,219.7L281.5,219.8L282.5,219.8L283.5,219.9L284.5,220L285.5,220.1L286.5,220.1L287.5,220.2L288.5,220.3L289.5,220.4L290.5,220.4L291.5,220.5L292.5,220.6L293.5,220.7L294.5,220.7L295.5,220.8L296.5,220.9L297.5,220.9L298.5,221L299.5,221.1L300.5,221.2L301.5,221.2L302.5,221.3L303.5,221.4L304.5,221.4L305.5,221.5L306.5,221.6L307.5,221.6L308.5,221.7L309.5,221.8L310.5,221.9L311.5,221.9L312.5,222L313.5,222.1L314.5,222.1L315.5,222.2L316.5,222.3L317.5,222.4L318.5,222.4L319.5,222.5L320.5,222.6L321.5,222.7L322.5,222.7L323.5,222.8L324.5,222.9L325.5,223L326.5,223L327.5,223.1L328.5,223.2L329.5,223.3L330.5,223.4L331.5,223.4L332.5,223.5L333.5,223.6L334.5,223.7L335.5,223.8L336.5,223.9L337.5,223.9L338.5,224L339.5,224.1L340.5,224.2L341.5,224.3L342.5,224.4L343.5,224.5L344.5,224.6L345.5,224.7L346.5,224.7L347.5,224.8L348.5,224.9L349.5,225L350.5,225.1L351.5,225.2L352.5,225.3L353.5,225.4L354.5,225.5L355.5,225.6L356.5,225.7L357.5,225.8L358.5,225.9L359.5,226L360.5,226.1L361.5,226.2L362.5,226.3L363.5,226.4L364.5,226.5L365.5,226.6L366.5,226.7L367.5,226.8L368.5,226.9L369.5,227L370.5,227.1L371.5,227.2L372.5,227.3L373.5,227.4L373.9,227.5L373.9,227.5L373.9,277.6Z" fill="url(#g)" opacity="0.3" transform="translate(0,0.6)"/><path d="M49.7,277.6L49.7,276.1L50.5,276.1L51.5,276.1L52.5,276L53.5,276L54.5,276L55.5,275.9L56.5,275.9L57.5,275.8L58.5,275.8L59.5,275.7L60.5,275.6L61.5,275.5L62.5,275.4L63.5,275.3L64.5,275.2L65.5,275L66.5,274.9L67.5,274.7L68.5,274.5L69.5,274.3L70.5,274.1L71.5,273.9L72.5,273.6L73.5,273.4L74.5,273.1L75.5,272.7L76.5,272.3L77.5,271.7L78.5,271.1L79.5,270.4L80.5,269.6L81.5,268.7L82.5,267.7L83.5,266.7L84.5,265.8L85.5,264.6L86.5,262.7L87.5,260.4L88.5,258L89.5,255.3L90.5,252.2L91.5,248.4L92.5,244.2L93.5,239.7L94.5,235.1L95.5,230.4L96.5,226.1L97.5,222.1L98.5,218.6L99.5,215L100.5,209.1L101.5,201.5L102.5,193.1L103.5,185.1L104.5,178.5L105.5,172.9L106.5,167.9L107.5,164.4L108.5,163.5L109.5,166.2L110.5,170.9L111.5,175.7L112.5,180.8L113.5,186.2L114.5,192.1L115.5,197.9L116.5,205L117.5,212.1L118.5,216.8L119.5,220.4L120.5,223.4L121.5,226.7L122.5,230.2L123.5,233.7L124.5,237.1L125.5,240.4L126.5,243.3L127.5,245.8L128.5,248.2L129.5,250.2L130.5,252L131.5,253.7L132.5,255.2L133.5,256.5L134.5,257.7L135.5,258.7L136.5,259.6L137.5,260.4L138.5,260.9L139.5,261.3L140.5,261.5L141.5,261.3L142.5,260.8L143.5,260.1L144.5,259.3L145.5,258.4L146.5,257.4L147.5,256.3L148.5,255L149.5,253.6L150.5,252.1L151.5,250.5L152.5,248.8L153.5,247.1L154.5,245.4L155.5,243.6L156.5,241.8L157.5,240L158.5,238.1L159.5,236.1L160.5,234.1L161.5,232.1L162.5,229.9L163.5,227.9L164.5,226L165.5,224.1L166.5,222.3L167.5,220.5L168.5,218.7L169.5,217.1L170.5,215.7L171.5,214.3L172.5,213.2L173.5,212.1L174.5,211.1L175.5,210.2L176.5,209.3L177.5,208.6L178.5,207.9L179.5,207.3L180.5,206.8L181.5,206.2L182.5,205.8L183.5,205.3L184.5,205L185.5,204.6L186.5,204.3L187.5,204L188.5,203.8L189.5,203.6L190.5,203.4L191.5,203.3L192.5,203.2L193.5,203.1L194.5,203L195.5,203L196.5,203L197.5,203.1L198.5,203.1L199.5,203.2L200.5,203.3L201.5,203.4L202.5,203.5L203.5,203.7L204.5,203.8L205.5,204L206.5,204.2L207.5,204.4L208.5,204.7L209.5,204.9L210.5,205.2L211.5,205.5L212.5,205.8L213.5,206.1L214.5,206.5L215.5,206.9L216.5,207.5L217.5,208.1L218.5,208.8L219.5,209.5L220.5,210.3L221.5,211L222.5,211.8L223.5,212.6L224.5,213.5L225.5,214.3L226.5,215.1L227.5,215.9L228.5,216.7L229.5,217.5L230.5,218.2L231.5,219L232.5,219.8L233.5,220.6L234.5,221.4L235.5,222.2L236.5,223L237.5,223.8L238.5,224.6L239.5,225.4L240.5,226.2L241.5,227L242.5,227.8L243.5,228.6L244.5,229.4L245.5,230.2L246.5,231L247.5,231.8L248.5,232.6L249.5,233.4L250.5,234.2L251.5,235L252.5,235.8L253.5,236.6L254.5,237.5L255.5,238.3L256.5,239.1L257.5,239.9L258.5,240.7L259.5,241.4L260.5,242.2L261.5,242.9L262.5,243.6L263.5,244.3L264.5,244.9L265.5,245.6L266.5,246.3L267.5,246.9L268.5,247.5L269.5,248.2L270.5,248.8L271.5,249.4L272.5,250L273.5,250.6L274.5,251.2L275.5,251.8L276.5,252.4L277.5,253L278.5,253.5L279.5,254.1L280.5,254.5L281.5,255L282.5,255.4L283.5,255.9L284.5,256.3L285.5,256.7L286.5,257.2L287.5,257.6L288.5,258.1L289.5,258.6L290.5,259L291.5,259.5L292.5,260.1L293.5,260.6L294.5,261.1L295.5,261.6L296.5,262.1L297.5,262.6L298.5,263L299.5,263.5L300.5,263.9L301.5,264.3L302.5,264.7L303.5,265.1L304.5,265.4L305.5,265.8L306.5,266.1L307.5,266.4L308.5,266.8L309.5,267.1L310.5,267.4L311.5,267.7L312.5,267.9L313.5,268.2L314.5,268.4L315.5,268.6L316.5,268.8L317.5,269L318.5,269.2L319.5,269.4L320.5,269.6L321.5,269.8L322.5,269.9L323.5,270.1L324.5,270.2L325.5,270.4L326.5,270.5L327.5,270.7L328.5,270.8L329.5,270.9L330.5,271L331.5,271.2L332.5,271.3L333.5,271.4L334.5,271.5L335.5,271.6L336.5,271.7L337.5,271.8L338.5,271.9L339.5,272L340.5,272L341.5,272.1L342.5,272.2L343.5,272.3L344.5,272.3L345.5,272.4L346.5,272.5L347.5,272.5L348.5,272.6L349.5,272.7L350.5,272.7L351.5,272.8L352.5,272.8L353.5,272.9L354.5,272.9L355.5,273L356.5,273L357.5,273.1L358.5,273.1L359.5,273.2L360.5,273.2L361.5,273.2L362.5,273.3L363.5,273.3L364.5,273.4L365.5,273.4L366.5,273.5L367.5,273.5L368.5,273.5L369.5,273.6L370.5,273.6L371.5,273.7L372.5,273.7L373.5,273.8L374.5,273.8L374.7,273.8L375.5,273.8L375.5,277.6Z" fill="none" stroke="#fff" stroke-width="3.6" stroke-opacity="0.35" stroke-linejoin="round"/><path d="M49.7,277.6L49.7,276.1L50.5,276.1L51.5,276.1L52.5,276L53.5,276L54.5,276L55.5,275.9L56.5,275.9L57.5,275.8L58.5,275.8L59.5,275.7L60.5,275.6L61.5,275.5L62.5,275.4L63.5,275.3L64.5,275.2L65.5,275L66.5,274.9L67.5,274.7L68.5,274.5L69.5,274.3L70.5,274.1L71.5,273.9L72.5,273.6L73.5,273.4L74.5,273.1L75.5,272.7L76.5,272.3L77.5,271.7L78.5,271.1L79.5,270.4L80.5,269.6L81.5,268.7L82.5,267.7L83.5,266.7L84.5,265.8L85.5,264.6L86.5,262.7L87.5,260.4L88.5,258L89.5,255.3L90.5,252.2L91.5,248.4L92.5,244.2L93.5,239.7L94.5,235.1L95.5,230.4L96.5,226.1L97.5,222.1L98.5,218.6L99.5,215L100.5,209.1L101.5,201.5L102.5,193.1L103.5,185.1L104.5,178.5L105.5,172.9L106.5,167.9L107.5,164.4L108.5,163.5L109.5,166.2L110.5,170.9L111.5,175.7L112.5,180.8L113.5,186.2L114.5,192.1L115.5,197.9L116.5,205L117.5,212.1L118.5,216.8L119.5,220.4L120.5,223.4L121.5,226.7L122.5,230.2L123.5,233.7L124.5,237.1L125.5,240.4L126.5,243.3L127.5,245.8L128.5,248.2L129.5,250.2L130.5,252L131.5,253.7L132.5,255.2L133.5,256.5L134.5,257.7L135.5,258.7L136.5,259.6L137.5,260.4L138.5,260.9L139.5,261.3L140.5,261.5L141.5,261.3L142.5,260.8L143.5,260.1L144.5,259.3L145.5,258.4L146.5,257.4L147.5,256.3L148.5,255L149.5,253.6L150.5,252.1L151.5,250.5L152.5,248.8L153.5,247.1L154.5,245.4L155.5,243.6L156.5,241.8L157.5,240L158.5,238.1L159.5,236.1L160.5,234.1L161.5,232.1L162.5,229.9L163.5,227.9L164.5,226L165.5,224.1L166.5,222.3L167.5,220.5L168.5,218.7L169.5,217.1L170.5,215.7L171.5,214.3L172.5,213.2L173.5,212.1L174.5,211.1L175.5,210.2L176.5,209.3L177.5,208.6L178.5,207.9L179.5,207.3L180.5,206.8L181.5,206.2L182.5,205.8L183.5,205.3L184.5,205L185.5,204.6L186.5,204.3L187.5,204L188.5,203.8L189.5,203.6L190.5,203.4L191.5,203.3L192.5,203.2L193.5,203.1L194.5,203L195.5,203L196.5,203L197.5,203.1L198.5,203.1L199.5,203.2L200.5,203.3L201.5,203.4L202.5,203.5L203.5,203.7L204.5,203.8L205.5,204L206.5,204.2L207.5,204.4L208.5,204.7L209.5,204.9L210.5,205.2L211.5,205.5L212.5,205.8L213.5,206.1L214.5,206.5L215.5,206.9L216.5,207.5L217.5,208.1L218.5,208.8L219.5,209.5L220.5,210.3L221.5,211L222.5,211.8L223.5,212.6L224.5,213.5L225.5,214.3L226.5,215.1L227.5,215.9L228.5,216.7L229.5,217.5L230.5,218.2L231.5,219L232.5,219.8L233.5,220.6L234.5,221.4L235.5,222.2L236.5,223L237.5,223.8L238.5,224.6L239.5,225.4L240.5,226.2L241.5,227L242.5,227.8L243.5,228.6L244.5,229.4L245.5,230.2L246.5,231L247.5,231.8L248.5,232.6L249.5,233.4L250.5,234.2L251.5,235L252.5,235.8L253.5,236.6L254.5,237.5L255.5,238.3L256.5,239.1L257.5,239.9L258.5,240.7L259.5,241.4L260.5,242.2L261.5,242.9L262.5,243.6L263.5,244.3L264.5,244.9L265.5,245.6L266.5,246.3L267.5,246.9L268.5,247.5L269.5,248.2L270.5,248.8L271.5,249.4L272.5,250L273.5,250.6L274.5,251.2L275.5,251.8L276.5,252.4L277.5,253L278.5,253.5L279.5,254.1L280.5,254.5L281.5,255L282.5,255.4L283.5,255.9L284.5,256.3L285.5,256.7L286.5,257.2L287.5,257.6L288.5,258.1L289.5,258.6L290.5,259L291.5,259.5L292.5,260.1L293.5,260.6L294.5,261.1L295.5,261.6L296.5,262.1L297.5,262.6L298.5,263L299.5,263.5L300.5,263.9L301.5,264.3L302.5,264.7L303.5,265.1L304.5,265.4L305.5,265.8L306.5,266.1L307.5,266.4L308.5,266.8L309.5,267.1L310.5,267.4L311.5,267.7L312.5,267.9L313.5,268.2L314.5,268.4L315.5,268.6L316.5,268.8L317.5,269L318.5,269.2L319.5,269.4L320.5,269.6L321.5,269.8L322.5,269.9L323.5,270.1L324.5,270.2L325.5,270.4L326.5,270.5L327.5,270.7L328.5,270.8L329.5,270.9L330.5,271L331.5,271.2L332.5,271.3L333.5,271.4L334.5,271.5L335.5,271.6L336.5,271.7L337.5,271.8L338.5,271.9L339.5,272L340.5,272L341.5,272.1L342.5,272.2L343.5,272.3L344.5,272.3L345.5,272.4L346.5,272.5L347.5,272.5L348.5,272.6L349.5,272.7L350.5,272.7L351.5,272.8L352.5,272.8L353.5,272.9L354.5,272.9L355.5,273L356.5,273L357.5,273.1L358.5,273.1L359.5,273.2L360.5,273.2L361.5,273.2L362.5,273.3L363.5,273.3L364.5,273.4L365.5,273.4L366.5,273.5L367.5,273.5L368.5,273.5L369.5,273.6L370.5,273.6L371.5,273.7L372.5,273.7L373.5,273.8L374.5,273.8L374.7,273.8L375.5,273.8L375.5,277.6Z" fill="none" stroke="#fff" stroke-width="1.6" stroke-opacity="0.3" stroke-linejoin="round"/><clipPath id="s2"><path d="M49.7,277.6L49.7,276.1L50.5,276.1L51.5,276.1L52.5,276L53.5,276L54.5,276L55.5,275.9L56.5,275.9L57.5,275.8L58.5,275.8L59.5,275.7L60.5,275.6L61.5,275.5L62.5,275.4L63.5,275.3L64.5,275.2L65.5,275L66.5,274.9L67.5,274.7L68.5,274.5L69.5,274.3L70.5,274.1L71.5,273.9L72.5,273.6L73.5,273.4L74.5,273.1L75.5,272.7L76.5,272.3L77.5,271.7L78.5,271.1L79.5,270.4L80.5,269.6L81.5,268.7L82.5,267.7L83.5,266.7L84.5,265.8L85.5,264.6L86.5,262.7L87.5,260.4L88.5,258L89.5,255.3L90.5,252.2L91.5,248.4L92.5,244.2L93.5,239.7L94.5,235.1L95.5,230.4L96.5,226.1L97.5,222.1L98.5,218.6L99.5,215L100.5,209.1L101.5,201.5L102.5,193.1L103.5,185.1L104.5,178.5L105.5,172.9L106.5,167.9L107.5,164.4L108.5,163.5L109.5,166.2L110.5,170.9L111.5,175.7L112.5,180.8L113.5,186.2L114.5,192.1L115.5,197.9L116.5,205L117.5,212.1L118.5,216.8L119.5,220.4L120.5,223.4L121.5,226.7L122.5,230.2L123.5,233.7L124.5,237.1L125.5,240.4L126.5,243.3L127.5,245.8L128.5,248.2L129.5,250.2L130.5,252L131.5,253.7L132.5,255.2L133.5,256.5L134.5,257.7L135.5,258.7L136.5,259.6L137.5,260.4L138.5,260.9L139.5,261.3L140.5,261.5L141.5,261.3L142.5,260.8L143.5,260.1L144.5,259.3L145.5,258.4L146.5,257.4L147.5,256.3L148.5,255L149.5,253.6L150.5,252.1L151.5,250.5L152.5,248.8L153.5,247.1L154.5,245.4L155.5,243.6L156.5,241.8L157.5,240L158.5,238.1L159.5,236.1L160.5,234.1L161.5,232.1L162.5,229.9L163.5,227.9L164.5,226L165.5,224.1L166.5,222.3L167.5,220.5L168.5,218.7L169.5,217.1L170.5,215.7L171.5,214.3L172.5,213.2L173.5,212.1L174.5,211.1L175.5,210.2L176.5,209.3L177.5,208.6L178.5,207.9L179.5,207.3L180.5,206.8L181.5,206.2L182.5,205.8L183.5,205.3L184.5,205L185.5,204.6L186.5,204.3L187.5,204L188.5,203.8L189.5,203.6L190.5,203.4L191.5,203.3L192.5,203.2L193.5,203.1L194.5,203L195.5,203L196.5,203L197.5,203.1L198.5,203.1L199.5,203.2L200.5,203.3L201.5,203.4L202.5,203.5L203.5,203.7L204.5,203.8L205.5,204L206.5,204.2L207.5,204.4L208.5,204.7L209.5,204.9L210.5,205.2L211.5,205.5L212.5,205.8L213.5,206.1L214.5,206.5L215.5,206.9L216.5,207.5L217.5,208.1L218.5,208.8L219.5,209.5L220.5,210.3L221.5,211L222.5,211.8L223.5,212.6L224.5,213.5L225.5,214.3L226.5,215.1L227.5,215.9L228.5,216.7L229.5,217.5L230.5,218.2L231.5,219L232.5,219.8L233.5,220.6L234.5,221.4L235.5,222.2L236.5,223L237.5,223.8L238.5,224.6L239.5,225.4L240.5,226.2L241.5,227L242.5,227.8L243.5,228.6L244.5,229.4L245.5,230.2L246.5,231L247.5,231.8L248.5,232.6L249.5,233.4L250.5,234.2L251.5,235L252.5,235.8L253.5,236.6L254.5,237.5L255.5,238.3L256.5,239.1L257.5,239.9L258.5,240.7L259.5,241.4L260.5,242.2L261.5,242.9L262.5,243.6L263.5,244.3L264.5,244.9L265.5,245.6L266.5,246.3L267.5,246.9L268.5,247.5L269.5,248.2L270.5,248.8L271.5,249.4L272.5,250L273.5,250.6L274.5,251.2L275.5,251.8L276.5,252.4L277.5,253L278.5,253.5L279.5,254.1L280.5,254.5L281.5,255L282.5,255.4L283.5,255.9L284.5,256.3L285.5,256.7L286.5,257.2L287.5,257.6L288.5,258.1L289.5,258.6L290.5,259L291.5,259.5L292.5,260.1L293.5,260.6L294.5,261.1L295.5,261.6L296.5,262.1L297.5,262.6L298.5,263L299.5,263.5L300.5,263.9L301.5,264.3L302.5,264.7L303.5,265.1L304.5,265.4L305.5,265.8L306.5,266.1L307.5,266.4L308.5,266.8L309.5,267.1L310.5,267.4L311.5,267.7L312.5,267.9L313.5,268.2L314.5,268.4L315.5,268.6L316.5,268.8L317.5,269L318.5,269.2L319.5,269.4L320.5,269.6L321.5,269.8L322.5,269.9L323.5,270.1L324.5,270.2L325.5,270.4L326.5,270.5L327.5,270.7L328.5,270.8L329.5,270.9L330.5,271L331.5,271.2L332.5,271.3L333.5,271.4L334.5,271.5L335.5,271.6L336.5,271.7L337.5,271.8L338.5,271.9L339.5,272L340.5,272L341.5,272.1L342.5,272.2L343.5,272.3L344.5,272.3L345.5,272.4L346.5,272.5L347.5,272.5L348.5,272.6L349.5,272.7L350.5,272.7L351.5,272.8L352.5,272.8L353.5,272.9L354.5,272.9L355.5,273L356.5,273L357.5,273.1L358.5,273.1L359.5,273.2L360.5,273.2L361.5,273.2L362.5,273.3L363.5,273.3L364.5,273.4L365.5,273.4L366.5,273.5L367.5,273.5L368.5,273.5L369.5,273.6L370.5,273.6L371.5,273.7L372.5,273.7L373.5,273.8L374.5,273.8L374.7,273.8L375.5,273.8L375.5,277.6Z"/></clipPath><path d="M49.7,277.6L49.7,276.1L50.5,276.1L51.5,276.1L52.5,276L53.5,276L54.5,276L55.5,275.9L56.5,275.9L57.5,275.8L58.5,275.8L59.5,275.7L60.5,275.6L61.5,275.5L62.5,275.4L63.5,275.3L64.5,275.2L65.5,275L66.5,274.9L67.5,274.7L68.5,274.5L69.5,274.3L70.5,274.1L71.5,273.9L72.5,273.6L73.5,273.4L74.5,273.1L75.5,272.7L76.5,272.3L77.5,271.7L78.5,271.1L79.5,270.4L80.5,269.6L81.5,268.7L82.5,267.7L83.5,266.7L84.5,265.8L85.5,264.6L86.5,262.7L87.5,260.4L88.5,258L89.5,255.3L90.5,252.2L91.5,248.4L92.5,244.2L93.5,239.7L94.5,235.1L95.5,230.4L96.5,226.1L97.5,222.1L98.5,218.6L99.5,215L100.5,209.1L101.5,201.5L102.5,193.1L103.5,185.1L104.5,178.5L105.5,172.9L106.5,167.9L107.5,164.4L108.5,163.5L109.5,166.2L110.5,170.9L111.5,175.7L112.5,180.8L113.5,186.2L114.5,192.1L115.5,197.9L116.5,205L117.5,212.1L118.5,216.8L119.5,220.4L120.5,223.4L121.5,226.7L122.5,230.2L123.5,233.7L124.5,237.1L125.5,240.4L126.5,243.3L127.5,245.8L128.5,248.2L129.5,250.2L130.5,252L131.5,253.7L132.5,255.2L133.5,256.5L134.5,257.7L135.5,258.7L136.5,259.6L137.5,260.4L138.5,260.9L139.5,261.3L140.5,261.5L141.5,261.3L142.5,260.8L143.5,260.1L144.5,259.3L145.5,258.4L146.5,257.4L147.5,256.3L148.5,255L149.5,253.6L150.5,252.1L151.5,250.5L152.5,248.8L153.5,247.1L154.5,245.4L155.5,243.6L156.5,241.8L157.5,240L158.5,238.1L159.5,236.1L160.5,234.1L161.5,232.1L162.5,229.9L163.5,227.9L164.5,226L165.5,224.1L166.5,222.3L167.5,220.5L168.5,218.7L169.5,217.1L170.5,215.7L171.5,214.3L172.5,213.2L173.5,212.1L174.5,211.1L175.5,210.2L176.5,209.3L177.5,208.6L178.5,207.9L179.5,207.3L180.5,206.8L181.5,206.2L182.5,205.8L183.5,205.3L184.5,205L185.5,204.6L186.5,204.3L187.5,204L188.5,203.8L189.5,203.6L190.5,203.4L191.5,203.3L192.5,203.2L193.5,203.1L194.5,203L195.5,203L196.5,203L197.5,203.1L198.5,203.1L199.5,203.2L200.5,203.3L201.5,203.4L202.5,203.5L203.5,203.7L204.5,203.8L205.5,204L206.5,204.2L207.5,204.4L208.5,204.7L209.5,204.9L210.5,205.2L211.5,205.5L212.5,205.8L213.5,206.1L214.5,206.5L215.5,206.9L216.5,207.5L217.5,208.1L218.5,208.8L219.5,209.5L220.5,210.3L221.5,211L222.5,211.8L223.5,212.6L224.5,213.5L225.5,214.3L226.5,215.1L227.5,215.9L228.5,216.7L229.5,217.5L230.5,218.2L231.5,219L232.5,219.8L233.5,220.6L234.5,221.4L235.5,222.2L236.5,223L237.5,223.8L238.5,224.6L239.5,225.4L240.5,226.2L241.5,227L242.5,227.8L243.5,228.6L244.5,229.4L245.5,230.2L246.5,231L247.5,231.8L248.5,232.6L249.5,233.4L250.5,234.2L251.5,235L252.5,235.8L253.5,236.6L254.5,237.5L255.5,238.3L256.5,239.1L257.5,239.9L258.5,240.7L259.5,241.4L260.5,242.2L261.5,242.9L262.5,243.6L263.5,244.3L264.5,244.9L265.5,245.6L266.5,246.3L267.5,246.9L268.5,247.5L269.5,248.2L270.5,248.8L271.5,249.4L272.5,250L273.5,250.6L274.5,251.2L275.5,251.8L276.5,252.4L277.5,253L278.5,253.5L279.5,254.1L280.5,254.5L281.5,255L282.5,255.4L283.5,255.9L284.5,256.3L285.5,256.7L286.5,257.2L287.5,257.6L288.5,258.1L289.5,258.6L290.5,259L291.5,259.5L292.5,260.1L293.5,260.6L294.5,261.1L295.5,261.6L296.5,262.1L297.5,262.6L298.5,263L299.5,263.5L300.5,263.9L301.5,264.3L302.5,264.7L303.5,265.1L304.5,265.4L305.5,265.8L306.5,266.1L307.5,266.4L308.5,266.8L309.5,267.1L310.5,267.4L311.5,267.7L312.5,267.9L313.5,268.2L314.5,268.4L315.5,268.6L316.5,268.8L317.5,269L318.5,269.2L319.5,269.4L320.5,269.6L321.5,269.8L322.5,269.9L323.5,270.1L324.5,270.2L325.5,270.4L326.5,270.5L327.5,270.7L328.5,270.8L329.5,270.9L330.5,271L331.5,271.2L332.5,271.3L333.5,271.4L334.5,271.5L335.5,271.6L336.5,271.7L337.5,271.8L338.5,271.9L339.5,272L340.5,272L341.5,272.1L342.5,272.2L343.5,272.3L344.5,272.3L345.5,272.4L346.5,272.5L347.5,272.5L348.5,272.6L349.5,272.7L350.5,272.7L351.5,272.8L352.5,272.8L353.5,272.9L354.5,272.9L355.5,273L356.5,273L357.5,273.1L358.5,273.1L359.5,273.2L360.5,273.2L361.5,273.2L362.5,273.3L363.5,273.3L364.5,273.4L365.5,273.4L366.5,273.5L367.5,273.5L368.5,273.5L369.5,273.6L370.5,273.6L371.5,273.7L372.5,273.7L373.5,273.8L374.5,273.8L374.7,273.8L375.5,273.8L375.5,277.6Z" fill="url(#g)"/><path d="M49.7,277.6L49.7,276.1L50.5,276.1L51.5,276.1L52.5,276L53.5,276L54.5,276L55.5,275.9L56.5,275.9L57.5,275.8L58.5,275.8L59.5,275.7L60.5,275.6L61.5,275.5L62.5,275.4L63.5,275.3L64.5,275.2L65.5,275L66.5,274.9L67.5,274.7L68.5,274.5L69.5,274.3L70.5,274.1L71.5,273.9L72.5,273.6L73.5,273.4L74.5,273.1L75.5,272.7L76.5,272.3L77.5,271.7L78.5,271.1L79.5,270.4L80.5,269.6L81.5,268.7L82.5,267.7L83.5,266.7L84.5,265.8L85.5,264.6L86.5,262.7L87.5,260.4L88.5,258L89.5,255.3L90.5,252.2L91.5,248.4L92.5,244.2L93.5,239.7L94.5,235.1L95.5,230.4L96.5,226.1L97.5,222.1L98.5,218.6L99.5,215L100.5,209.1L101.5,201.5L102.5,193.1L103.5,185.1L104.5,178.5L105.5,172.9L106.5,167.9L107.5,164.4L108.5,163.5L109.5,166.2L110.5,170.9L111.5,175.7L112.5,180.8L113.5,186.2L114.5,192.1L115.5,197.9L116.5,205L117.5,212.1L118.5,216.8L119.5,220.4L120.5,223.4L121.5,226.7L122.5,230.2L123.5,233.7L124.5,237.1L125.5,240.4L126.5,243.3L127.5,245.8L128.5,248.2L129.5,250.2L130.5,252L131.5,253.7L132.5,255.2L133.5,256.5L134.5,257.7L135.5,258.7L136.5,259.6L137.5,260.4L138.5,260.9L139.5,261.3L140.5,261.5L141.5,261.3L142.5,260.8L143.5,260.1L144.5,259.3L145.5,258.4L146.5,257.4L147.5,256.3L148.5,255L149.5,253.6L150.5,252.1L151.5,250.5L152.5,248.8L153.5,247.1L154.5,245.4L155.5,243.6L156.5,241.8L157.5,240L158.5,238.1L159.5,236.1L160.5,234.1L161.5,232.1L162.5,229.9L163.5,227.9L164.5,226L165.5,224.1L166.5,222.3L167.5,220.5L168.5,218.7L169.5,217.1L170.5,215.7L171.5,214.3L172.5,213.2L173.5,212.1L174.5,211.1L175.5,210.2L176.5,209.3L177.5,208.6L178.5,207.9L179.5,207.3L180.5,206.8L181.5,206.2L182.5,205.8L183.5,205.3L184.5,205L185.5,204.6L186.5,204.3L187.5,204L188.5,203.8L189.5,203.6L190.5,203.4L191.5,203.3L192.5,203.2L193.5,203.1L194.5,203L195.5,203L196.5,203L197.5,203.1L198.5,203.1L199.5,203.2L200.5,203.3L201.5,203.4L202.5,203.5L203.5,203.7L204.5,203.8L205.5,204L206.5,204.2L207.5,204.4L208.5,204.7L209.5,204.9L210.5,205.2L211.5,205.5L212.5,205.8L213.5,206.1L214.5,206.5L215.5,206.9L216.5,207.5L217.5,208.1L218.5,208.8L219.5,209.5L220.5,210.3L221.5,211L222.5,211.8L223.5,212.6L224.5,213.5L225.5,214.3L226.5,215.1L227.5,215.9L228.5,216.7L229.5,217.5L230.5,218.2L231.5,219L232.5,219.8L233.5,220.6L234.5,221.4L235.5,222.2L236.5,223L237.5,223.8L238.5,224.6L239.5,225.4L240.5,226.2L241.5,227L242.5,227.8L243.5,228.6L244.5,229.4L245.5,230.2L246.5,231L247.5,231.8L248.5,232.6L249.5,233.4L250.5,234.2L251.5,235L252.5,235.8L253.5,236.6L254.5,237.5L255.5,238.3L256.5,239.1L257.5,239.9L258.5,240.7L259.5,241.4L260.5,242.2L261.5,242.9L262.5,243.6L263.5,244.3L264.5,244.9L265.5,245.6L266.5,246.3L267.5,246.9L268.5,247.5L269.5,248.2L270.5,248.8L271.5,249.4L272.5,250L273.5,250.6L274.5,251.2L275.5,251.8L276.5,252.4L277.5,253L278.5,253.5L279.5,254.1L280.5,254.5L281.5,255L282.5,255.4L283.5,255.9L284.5,256.3L285.5,256.7L286.5,257.2L287.5,257.6L288.5,258.1L289.5,258.6L290.5,259L291.5,259.5L292.5,260.1L293.5,260.6L294.5,261.1L295.5,261.6L296.5,262.1L297.5,262.6L298.5,263L299.5,263.5L300.5,263.9L301.5,264.3L302.5,264.7L303.5,265.1L304.5,265.4L305.5,265.8L306.5,266.1L307.5,266.4L308.5,266.8L309.5,267.1L310.5,267.4L311.5,267.7L312.5,267.9L313.5,268.2L314.5,268.4L315.5,268.6L316.5,268.8L317.5,269L318.5,269.2L319.5,269.4L320.5,269.6L321.5,269.8L322.5,269.9L323.5,270.1L324.5,270.2L325.5,270.4L326.5,270.5L327.5,270.7L328.5,270.8L329.5,270.9L330.5,271L331.5,271.2L332.5,271.3L333.5,271.4L334.5,271.5L335.5,271.6L336.5,271.7L337.5,271.8L338.5,271.9L339.5,272L340.5,272L341.5,272.1L342.5,272.2L343.5,272.3L344.5,272.3L345.5,272.4L346.5,272.5L347.5,272.5L348.5,272.6L349.5,272.7L350.5,272.7L351.5,272.8L352.5,272.8L353.5,272.9L354.5,272.9L355.5,273L356.5,273L357.5,273.1L358.5,273.1L359.5,273.2L360.5,273.2L361.5,273.2L362.5,273.3L363.5,273.3L364.5,273.4L365.5,273.4L366.5,273.5L367.5,273.5L368.5,273.5L369.5,273.6L370.5,273.6L371.5,273.7L372.5,273.7L373.5,273.8L374.5,273.8L374.7,273.8L375.5,273.8L375.5,277.6Z" fill="none" stroke="#000" stroke-opacity="0.12" stroke-width="1.4" clip-path="url(#s2)"/><rect x="49.7" y="276.2" width="325.8" height="1.4" fill="#000" opacity="0.3"/></g><text x="287" y="206.4" font-size="14" fill="#22a85c" stroke="#22a85c" stroke-width="0.1" letter-spacing="1.0">太阳光曲线</text><path d="M54.6,239.3L55.5,239.1L56.5,238.7L57.5,238.4L58.5,238.1L59.5,237.8L60.5,237.5L61.5,237.2L62.5,236.9L63.5,236.6L64.5,236.3L65.5,236L66.5,235.7L67.5,235.4L68.5,235.1L69.5,234.8L70.5,234.5L71.5,234.3L72.5,234L73.5,233.7L74.5,233.4L75.5,233.1L76.5,232.8L77.5,232.6L78.5,232.3L79.5,232L80.5,231.8L81.5,231.5L82.5,231.2L83.5,231L84.5,230.7L85.5,230.5L86.5,230.2L87.5,230L88.5,229.8L89.5,229.5L90.5,229.3L91.5,229.1L92.5,228.9L93.5,228.6L94.5,228.4L95.5,228.2L96.5,228L97.5,227.8L98.5,227.6L99.5,227.4L100.5,227.2L101.5,227L102.5,226.8L103.5,226.6L104.5,226.5L105.5,226.3L106.5,226.1L107.5,225.9L108.5,225.8L109.5,225.6L110.5,225.4L111.5,225.3L112.5,225.1L113.5,225L114.5,224.8L115.5,224.7L116.5,224.5L117.5,224.4L118.5,224.2L119.5,224.1L120.5,223.9L121.5,223.8L122.5,223.7L123.5,223.5L124.5,223.4L125.5,223.3L126.5,223.1L127.5,223L128.5,222.9L129.5,222.8L130.5,222.6L131.5,222.5L132.5,222.4L133.5,222.3L134.5,222.2L135.5,222L136.5,221.9L137.5,221.8L138.5,221.7L139.5,221.6L140.5,221.5L141.5,221.3L142.5,221.2L143.5,221.1L144.5,221L145.5,220.9L146.5,220.8L147.5,220.7L148.5,220.6L149.5,220.5L150.5,220.4L151.5,220.3L152.5,220.2L153.5,220.1L154.5,220L155.5,219.9L156.5,219.8L157.5,219.7L158.5,219.7L159.5,219.6L160.5,219.5L161.5,219.4L162.5,219.3L163.5,219.2L164.5,219.2L165.5,219.1L166.5,219L167.5,218.9L168.5,218.8L169.5,218.8L170.5,218.7L171.5,218.6L172.5,218.6L173.5,218.5L174.5,218.4L175.5,218.4L176.5,218.3L177.5,218.2L178.5,218.2L179.5,218.1L180.5,218.1L181.5,218L182.5,217.9L183.5,217.9L184.5,217.8L185.5,217.8L186.5,217.7L187.5,217.7L188.5,217.6L189.5,217.6L190.5,217.6L191.5,217.5L192.5,217.5L193.5,217.4L194.5,217.4L195.5,217.4L196.5,217.3L197.5,217.3L198.5,217.3L199.5,217.2L200.5,217.2L201.5,217.2L202.5,217.1L203.5,217.1L204.5,217.1L205.5,217.1L206.5,217.1L207.5,217L208.5,217L209.5,217L210.5,217L211.5,217L212.5,217L213.5,217L214.5,217L215.5,216.9L216.5,216.9L217.5,216.9L218.5,216.9L219.5,216.9L220.5,216.9L221.5,216.9L222.5,216.9L223.5,216.9L224.5,217L225.5,217L226.5,217L227.5,217L228.5,217L229.5,217L230.5,217L231.5,217.1L232.5,217.1L233.5,217.1L234.5,217.1L235.5,217.1L236.5,217.2L237.5,217.2L238.5,217.2L239.5,217.3L240.5,217.3L241.5,217.3L242.5,217.4L243.5,217.4L244.5,217.4L245.5,217.5L246.5,217.5L247.5,217.6L248.5,217.6L249.5,217.7L250.5,217.7L251.5,217.8L252.5,217.8L253.5,217.9L254.5,217.9L255.5,218L256.5,218L257.5,218.1L258.5,218.1L259.5,218.2L260.5,218.3L261.5,218.3L262.5,218.4L263.5,218.5L264.5,218.5L265.5,218.6L266.5,218.7L267.5,218.7L268.5,218.8L269.5,218.9L270.5,218.9L271.5,219L272.5,219.1L273.5,219.2L274.5,219.2L275.5,219.3L276.5,219.4L277.5,219.5L278.5,219.5L279.5,219.6L280.5,219.7L281.5,219.8L282.5,219.8L283.5,219.9L284.5,220L285.5,220.1L286.5,220.1L287.5,220.2L288.5,220.3L289.5,220.4L290.5,220.4L291.5,220.5L292.5,220.6L293.5,220.7L294.5,220.7L295.5,220.8L296.5,220.9L297.5,220.9L298.5,221L299.5,221.1L300.5,221.2L301.5,221.2L302.5,221.3L303.5,221.4L304.5,221.4L305.5,221.5L306.5,221.6L307.5,221.6L308.5,221.7L309.5,221.8L310.5,221.9L311.5,221.9L312.5,222L313.5,222.1L314.5,222.1L315.5,222.2L316.5,222.3L317.5,222.4L318.5,222.4L319.5,222.5L320.5,222.6L321.5,222.7L322.5,222.7L323.5,222.8L324.5,222.9L325.5,223L326.5,223L327.5,223.1L328.5,223.2L329.5,223.3L330.5,223.4L331.5,223.4L332.5,223.5L333.5,223.6L334.5,223.7L335.5,223.8L336.5,223.9L337.5,223.9L338.5,224L339.5,224.1L340.5,224.2L341.5,224.3L342.5,224.4L343.5,224.5L344.5,224.6L345.5,224.7L346.5,224.7L347.5,224.8L348.5,224.9L349.5,225L350.5,225.1L351.5,225.2L352.5,225.3L353.5,225.4L354.5,225.5L355.5,225.6L356.5,225.7L357.5,225.8L358.5,225.9L359.5,226L360.5,226.1L361.5,226.2L362.5,226.3L363.5,226.4L364.5,226.5L365.5,226.6L366.5,226.7L367.5,226.8L368.5,226.9L369.5,227L370.5,227.1L371.5,227.2L372.5,227.3L373.5,227.4L374.5,227.5L374.7,227.5" stroke="#5a0c1a" stroke-width="2.4" stroke-linecap="round" stroke-dasharray="0 4.6" fill="none" transform="translate(0,0.6)"/><text transform="translate(60,145.8) scale(1.07,1)" font-size="18" fill="#111" stroke="#111" stroke-width="0.2" letter-spacing="-0.1">普通</text><text transform="translate(100,146.6) scale(0.8,1)" font-size="21.5" fill="#111" stroke="#111" stroke-width="0.3" letter-spacing="0.6">LED</text><text transform="translate(136,145.8) scale(1.07,1)" font-size="18" fill="#111" stroke="#111" stroke-width="0.2" letter-spacing="-0.1">光</text><text transform="translate(160,145.8) scale(1.07,1)" font-size="18" fill="#111" stroke="#111" stroke-width="0.2" letter-spacing="-0.1">有蓝光</text><g stroke="#6e6e6e" stroke-width="1.05" fill="none"><path d="M50.7,282.2H375"/><path d="M51.5,282V296.4"/><path d="M66.5,282V296.4"/><path d="M108.5,282V290.4"/><path d="M150.5,282V296.4"/><path d="M192.5,282V290.4"/><path d="M235.5,282V296.4"/><path d="M277.5,282V290.4"/><path d="M319.5,282V296.4"/><path d="M361.5,282V290.4"/><path d="M374.5,282V296.4"/></g><g font-size="14.5" fill="#858585" text-anchor="middle"><text transform="translate(67.3,309.2) scale(0.9,1)">400</text><text transform="translate(109.4,309.2) scale(0.9,1)">450</text><text transform="translate(151.3,309.2) scale(0.9,1)">500</text><text transform="translate(193.6,309.2) scale(0.9,1)">550</text><text transform="translate(236.2,309.2) scale(0.9,1)">600</text><text transform="translate(278.1,309.2) scale(0.9,1)">650</text><text transform="translate(320.2,309.2) scale(0.9,1)">700</text><text transform="translate(362.2,309.2) scale(0.9,1)">750</text></g></g><g transform="translate(357.6,239.3)"><path d="M50.5,277.6V117.7H374.7V277.6" stroke="#7a7a7a" stroke-width="1.6" fill="none"/><clipPath id="c3"><rect x="49.7" y="118.5" width="325.8" height="159.1"/></clipPath><g clip-path="url(#c3)"><path d="M51.3,277.6L51.3,240.6L51.5,240.3L52.5,240L53.5,239.7L54.5,239.4L55.5,239.1L56.5,238.7L57.5,238.4L58.5,238.1L59.5,237.8L60.5,237.5L61.5,237.2L62.5,236.9L63.5,236.6L64.5,236.3L65.5,236L66.5,235.7L67.5,235.4L68.5,235.1L69.5,234.8L70.5,234.5L71.5,234.3L72.5,234L73.5,233.7L74.5,233.4L75.5,233.1L76.5,232.8L77.5,232.6L78.5,232.3L79.5,232L80.5,231.8L81.5,231.5L82.5,231.2L83.5,231L84.5,230.7L85.5,230.5L86.5,230.2L87.5,230L88.5,229.8L89.5,229.5L90.5,229.3L91.5,229.1L92.5,228.9L93.5,228.6L94.5,228.4L95.5,228.2L96.5,228L97.5,227.8L98.5,227.6L99.5,227.4L100.5,227.2L101.5,227L102.5,226.8L103.5,226.6L104.5,226.5L105.5,226.3L106.5,226.1L107.5,225.9L108.5,225.8L109.5,225.6L110.5,225.4L111.5,225.3L112.5,225.1L113.5,225L114.5,224.8L115.5,224.7L116.5,224.5L117.5,224.4L118.5,224.2L119.5,224.1L120.5,223.9L121.5,223.8L122.5,223.7L123.5,223.5L124.5,223.4L125.5,223.3L126.5,223.1L127.5,223L128.5,222.9L129.5,222.8L130.5,222.6L131.5,222.5L132.5,222.4L133.5,222.3L134.5,222.2L135.5,222L136.5,221.9L137.5,221.8L138.5,221.7L139.5,221.6L140.5,221.5L141.5,221.3L142.5,221.2L143.5,221.1L144.5,221L145.5,220.9L146.5,220.8L147.5,220.7L148.5,220.6L149.5,220.5L150.5,220.4L151.5,220.3L152.5,220.2L153.5,220.1L154.5,220L155.5,219.9L156.5,219.8L157.5,219.7L158.5,219.7L159.5,219.6L160.5,219.5L161.5,219.4L162.5,219.3L163.5,219.2L164.5,219.2L165.5,219.1L166.5,219L167.5,218.9L168.5,218.8L169.5,218.8L170.5,218.7L171.5,218.6L172.5,218.6L173.5,218.5L174.5,218.4L175.5,218.4L176.5,218.3L177.5,218.2L178.5,218.2L179.5,218.1L180.5,218.1L181.5,218L182.5,217.9L183.5,217.9L184.5,217.8L185.5,217.8L186.5,217.7L187.5,217.7L188.5,217.6L189.5,217.6L190.5,217.6L191.5,217.5L192.5,217.5L193.5,217.4L194.5,217.4L195.5,217.4L196.5,217.3L197.5,217.3L198.5,217.3L199.5,217.2L200.5,217.2L201.5,217.2L202.5,217.1L203.5,217.1L204.5,217.1L205.5,217.1L206.5,217.1L207.5,217L208.5,217L209.5,217L210.5,217L211.5,217L212.5,217L213.5,217L214.5,217L215.5,216.9L216.5,216.9L217.5,216.9L218.5,216.9L219.5,216.9L220.5,216.9L221.5,216.9L222.5,216.9L223.5,216.9L224.5,217L225.5,217L226.5,217L227.5,217L228.5,217L229.5,217L230.5,217L231.5,217.1L232.5,217.1L233.5,217.1L234.5,217.1L235.5,217.1L236.5,217.2L237.5,217.2L238.5,217.2L239.5,217.3L240.5,217.3L241.5,217.3L242.5,217.4L243.5,217.4L244.5,217.4L245.5,217.5L246.5,217.5L247.5,217.6L248.5,217.6L249.5,217.7L250.5,217.7L251.5,217.8L252.5,217.8L253.5,217.9L254.5,217.9L255.5,218L256.5,218L257.5,218.1L258.5,218.1L259.5,218.2L260.5,218.3L261.5,218.3L262.5,218.4L263.5,218.5L264.5,218.5L265.5,218.6L266.5,218.7L267.5,218.7L268.5,218.8L269.5,218.9L270.5,218.9L271.5,219L272.5,219.1L273.5,219.2L274.5,219.2L275.5,219.3L276.5,219.4L277.5,219.5L278.5,219.5L279.5,219.6L280.5,219.7L281.5,219.8L282.5,219.8L283.5,219.9L284.5,220L285.5,220.1L286.5,220.1L287.5,220.2L288.5,220.3L289.5,220.4L290.5,220.4L291.5,220.5L292.5,220.6L293.5,220.7L294.5,220.7L295.5,220.8L296.5,220.9L297.5,220.9L298.5,221L299.5,221.1L300.5,221.2L301.5,221.2L302.5,221.3L303.5,221.4L304.5,221.4L305.5,221.5L306.5,221.6L307.5,221.6L308.5,221.7L309.5,221.8L310.5,221.9L311.5,221.9L312.5,222L313.5,222.1L314.5,222.1L315.5,222.2L316.5,222.3L317.5,222.4L318.5,222.4L319.5,222.5L320.5,222.6L321.5,222.7L322.5,222.7L323.5,222.8L324.5,222.9L325.5,223L326.5,223L327.5,223.1L328.5,223.2L329.5,223.3L330.5,223.4L331.5,223.4L332.5,223.5L333.5,223.6L334.5,223.7L335.5,223.8L336.5,223.9L337.5,223.9L338.5,224L339.5,224.1L340.5,224.2L341.5,224.3L342.5,224.4L343.5,224.5L344.5,224.6L345.5,224.7L346.5,224.7L347.5,224.8L348.5,224.9L349.5,225L350.5,225.1L351.5,225.2L352.5,225.3L353.5,225.4L354.5,225.5L355.5,225.6L356.5,225.7L357.5,225.8L358.5,225.9L359.5,226L360.5,226.1L361.5,226.2L362.5,226.3L363.5,226.4L364.5,226.5L365.5,226.6L366.5,226.7L367.5,226.8L368.5,226.9L369.5,227L370.5,227.1L371.5,227.2L372.5,227.3L373.5,227.4L373.9,227.5L373.9,227.5L373.9,277.6Z" fill="url(#g)" opacity="0.3" transform="translate(0,0.6)"/><path d="M50.9,277.6L50.9,274.9L61.4,274.9L63.9,272.7L67.4,265.7L70.4,262.2L72.4,261.5L74.4,264.2L76.2,268.5L78.4,267.2L82.4,263.7L85.4,260.2L88.4,253.7L90.9,241.7L92.9,220.7L94.4,202.7L95.6,193.7L96.9,202.7L98.4,218.7L99.9,230.7L101.4,234.7L104.6,235.3L108.4,236.7L112.8,239.5L116.9,243.2L120.9,247.7L124.4,251.7L127.4,253.3L129.9,248.7L132.4,238.2L134.9,222.7L137.4,210.7L139.4,205.3L141.4,211.7L143.8,226.4L145.9,238.7L148.7,249.3L151.4,257.2L153.6,262.3L156.4,265L160.2,266.5L164.4,267.5L167.9,267.7L169.9,266.2L171.4,264.7L172.5,263.1L173.7,259.2L174.7,254.2L175.5,247.2L176.2,239.5L176.9,224.7L177.6,210.1L178,195.7L178.4,180.7L179,150.7L179.5,118.7L179.7,100.7L189,100.7L189.2,118.7L189.9,150.7L190.9,180.7L191.3,195.7L191.6,210.1L192.3,224.7L193.1,239.5L193.7,247.2L194.5,254.2L195.2,259.2L196,263.1L197.4,266.7L199,268.9L202.4,266.7L205.4,257.7L208.7,246L211.4,228.7L213.6,213.4L215.4,203.7L217.2,200.3L218.9,203.7L220.4,210.7L221.8,221.5L224.4,233.7L226.7,242.7L228.4,247.2L229.8,247.9L230.8,244.7L231.6,239.1L232.2,228.7L232.6,220.7L233.5,213L234.2,199.9L234.4,186.7L234.8,160.7L235.4,130.7L235.8,118.7L235.9,100.7L242.4,100.7L242.4,118.7L242.9,140.7L243.3,160.7L244,186.7L245.3,199.9L247.2,213L248.5,220.7L249.9,229.7L251.2,237.8L253.4,246.7L256.1,254.2L258.4,260.7L261,265.2L263.4,265.2L266.4,263.9L268.5,263.7L270.9,265.1L274.6,266.7L279.4,267.5L285.2,267.9L291.4,268.4L297.4,268.8L302.4,269.5L308,270.3L310.4,268.7L312.6,264.5L314.4,260.7L316.4,258.1L318.4,259L320.2,260.9L322.4,265.7L324.7,270.3L327.7,272.7L332.4,273.1L338.4,273.3L349.8,273.7L350.9,275.2L352.4,275.7L374.6,275.9L375.5,275.9L375.5,277.6Z" fill="none" stroke="#fff" stroke-width="3.6" stroke-opacity="0.35" stroke-linejoin="round"/><path d="M50.9,277.6L50.9,274.9L61.4,274.9L63.9,272.7L67.4,265.7L70.4,262.2L72.4,261.5L74.4,264.2L76.2,268.5L78.4,267.2L82.4,263.7L85.4,260.2L88.4,253.7L90.9,241.7L92.9,220.7L94.4,202.7L95.6,193.7L96.9,202.7L98.4,218.7L99.9,230.7L101.4,234.7L104.6,235.3L108.4,236.7L112.8,239.5L116.9,243.2L120.9,247.7L124.4,251.7L127.4,253.3L129.9,248.7L132.4,238.2L134.9,222.7L137.4,210.7L139.4,205.3L141.4,211.7L143.8,226.4L145.9,238.7L148.7,249.3L151.4,257.2L153.6,262.3L156.4,265L160.2,266.5L164.4,267.5L167.9,267.7L169.9,266.2L171.4,264.7L172.5,263.1L173.7,259.2L174.7,254.2L175.5,247.2L176.2,239.5L176.9,224.7L177.6,210.1L178,195.7L178.4,180.7L179,150.7L179.5,118.7L179.7,100.7L189,100.7L189.2,118.7L189.9,150.7L190.9,180.7L191.3,195.7L191.6,210.1L192.3,224.7L193.1,239.5L193.7,247.2L194.5,254.2L195.2,259.2L196,263.1L197.4,266.7L199,268.9L202.4,266.7L205.4,257.7L208.7,246L211.4,228.7L213.6,213.4L215.4,203.7L217.2,200.3L218.9,203.7L220.4,210.7L221.8,221.5L224.4,233.7L226.7,242.7L228.4,247.2L229.8,247.9L230.8,244.7L231.6,239.1L232.2,228.7L232.6,220.7L233.5,213L234.2,199.9L234.4,186.7L234.8,160.7L235.4,130.7L235.8,118.7L235.9,100.7L242.4,100.7L242.4,118.7L242.9,140.7L243.3,160.7L244,186.7L245.3,199.9L247.2,213L248.5,220.7L249.9,229.7L251.2,237.8L253.4,246.7L256.1,254.2L258.4,260.7L261,265.2L263.4,265.2L266.4,263.9L268.5,263.7L270.9,265.1L274.6,266.7L279.4,267.5L285.2,267.9L291.4,268.4L297.4,268.8L302.4,269.5L308,270.3L310.4,268.7L312.6,264.5L314.4,260.7L316.4,258.1L318.4,259L320.2,260.9L322.4,265.7L324.7,270.3L327.7,272.7L332.4,273.1L338.4,273.3L349.8,273.7L350.9,275.2L352.4,275.7L374.6,275.9L375.5,275.9L375.5,277.6Z" fill="none" stroke="#fff" stroke-width="1.6" stroke-opacity="0.3" stroke-linejoin="round"/><clipPath id="s3"><path d="M50.9,277.6L50.9,274.9L61.4,274.9L63.9,272.7L67.4,265.7L70.4,262.2L72.4,261.5L74.4,264.2L76.2,268.5L78.4,267.2L82.4,263.7L85.4,260.2L88.4,253.7L90.9,241.7L92.9,220.7L94.4,202.7L95.6,193.7L96.9,202.7L98.4,218.7L99.9,230.7L101.4,234.7L104.6,235.3L108.4,236.7L112.8,239.5L116.9,243.2L120.9,247.7L124.4,251.7L127.4,253.3L129.9,248.7L132.4,238.2L134.9,222.7L137.4,210.7L139.4,205.3L141.4,211.7L143.8,226.4L145.9,238.7L148.7,249.3L151.4,257.2L153.6,262.3L156.4,265L160.2,266.5L164.4,267.5L167.9,267.7L169.9,266.2L171.4,264.7L172.5,263.1L173.7,259.2L174.7,254.2L175.5,247.2L176.2,239.5L176.9,224.7L177.6,210.1L178,195.7L178.4,180.7L179,150.7L179.5,118.7L179.7,100.7L189,100.7L189.2,118.7L189.9,150.7L190.9,180.7L191.3,195.7L191.6,210.1L192.3,224.7L193.1,239.5L193.7,247.2L194.5,254.2L195.2,259.2L196,263.1L197.4,266.7L199,268.9L202.4,266.7L205.4,257.7L208.7,246L211.4,228.7L213.6,213.4L215.4,203.7L217.2,200.3L218.9,203.7L220.4,210.7L221.8,221.5L224.4,233.7L226.7,242.7L228.4,247.2L229.8,247.9L230.8,244.7L231.6,239.1L232.2,228.7L232.6,220.7L233.5,213L234.2,199.9L234.4,186.7L234.8,160.7L235.4,130.7L235.8,118.7L235.9,100.7L242.4,100.7L242.4,118.7L242.9,140.7L243.3,160.7L244,186.7L245.3,199.9L247.2,213L248.5,220.7L249.9,229.7L251.2,237.8L253.4,246.7L256.1,254.2L258.4,260.7L261,265.2L263.4,265.2L266.4,263.9L268.5,263.7L270.9,265.1L274.6,266.7L279.4,267.5L285.2,267.9L291.4,268.4L297.4,268.8L302.4,269.5L308,270.3L310.4,268.7L312.6,264.5L314.4,260.7L316.4,258.1L318.4,259L320.2,260.9L322.4,265.7L324.7,270.3L327.7,272.7L332.4,273.1L338.4,273.3L349.8,273.7L350.9,275.2L352.4,275.7L374.6,275.9L375.5,275.9L375.5,277.6Z"/></clipPath><path d="M50.9,277.6L50.9,274.9L61.4,274.9L63.9,272.7L67.4,265.7L70.4,262.2L72.4,261.5L74.4,264.2L76.2,268.5L78.4,267.2L82.4,263.7L85.4,260.2L88.4,253.7L90.9,241.7L92.9,220.7L94.4,202.7L95.6,193.7L96.9,202.7L98.4,218.7L99.9,230.7L101.4,234.7L104.6,235.3L108.4,236.7L112.8,239.5L116.9,243.2L120.9,247.7L124.4,251.7L127.4,253.3L129.9,248.7L132.4,238.2L134.9,222.7L137.4,210.7L139.4,205.3L141.4,211.7L143.8,226.4L145.9,238.7L148.7,249.3L151.4,257.2L153.6,262.3L156.4,265L160.2,266.5L164.4,267.5L167.9,267.7L169.9,266.2L171.4,264.7L172.5,263.1L173.7,259.2L174.7,254.2L175.5,247.2L176.2,239.5L176.9,224.7L177.6,210.1L178,195.7L178.4,180.7L179,150.7L179.5,118.7L179.7,100.7L189,100.7L189.2,118.7L189.9,150.7L190.9,180.7L191.3,195.7L191.6,210.1L192.3,224.7L193.1,239.5L193.7,247.2L194.5,254.2L195.2,259.2L196,263.1L197.4,266.7L199,268.9L202.4,266.7L205.4,257.7L208.7,246L211.4,228.7L213.6,213.4L215.4,203.7L217.2,200.3L218.9,203.7L220.4,210.7L221.8,221.5L224.4,233.7L226.7,242.7L228.4,247.2L229.8,247.9L230.8,244.7L231.6,239.1L232.2,228.7L232.6,220.7L233.5,213L234.2,199.9L234.4,186.7L234.8,160.7L235.4,130.7L235.8,118.7L235.9,100.7L242.4,100.7L242.4,118.7L242.9,140.7L243.3,160.7L244,186.7L245.3,199.9L247.2,213L248.5,220.7L249.9,229.7L251.2,237.8L253.4,246.7L256.1,254.2L258.4,260.7L261,265.2L263.4,265.2L266.4,263.9L268.5,263.7L270.9,265.1L274.6,266.7L279.4,267.5L285.2,267.9L291.4,268.4L297.4,268.8L302.4,269.5L308,270.3L310.4,268.7L312.6,264.5L314.4,260.7L316.4,258.1L318.4,259L320.2,260.9L322.4,265.7L324.7,270.3L327.7,272.7L332.4,273.1L338.4,273.3L349.8,273.7L350.9,275.2L352.4,275.7L374.6,275.9L375.5,275.9L375.5,277.6Z" fill="url(#g)"/><path d="M50.9,277.6L50.9,274.9L61.4,274.9L63.9,272.7L67.4,265.7L70.4,262.2L72.4,261.5L74.4,264.2L76.2,268.5L78.4,267.2L82.4,263.7L85.4,260.2L88.4,253.7L90.9,241.7L92.9,220.7L94.4,202.7L95.6,193.7L96.9,202.7L98.4,218.7L99.9,230.7L101.4,234.7L104.6,235.3L108.4,236.7L112.8,239.5L116.9,243.2L120.9,247.7L124.4,251.7L127.4,253.3L129.9,248.7L132.4,238.2L134.9,222.7L137.4,210.7L139.4,205.3L141.4,211.7L143.8,226.4L145.9,238.7L148.7,249.3L151.4,257.2L153.6,262.3L156.4,265L160.2,266.5L164.4,267.5L167.9,267.7L169.9,266.2L171.4,264.7L172.5,263.1L173.7,259.2L174.7,254.2L175.5,247.2L176.2,239.5L176.9,224.7L177.6,210.1L178,195.7L178.4,180.7L179,150.7L179.5,118.7L179.7,100.7L189,100.7L189.2,118.7L189.9,150.7L190.9,180.7L191.3,195.7L191.6,210.1L192.3,224.7L193.1,239.5L193.7,247.2L194.5,254.2L195.2,259.2L196,263.1L197.4,266.7L199,268.9L202.4,266.7L205.4,257.7L208.7,246L211.4,228.7L213.6,213.4L215.4,203.7L217.2,200.3L218.9,203.7L220.4,210.7L221.8,221.5L224.4,233.7L226.7,242.7L228.4,247.2L229.8,247.9L230.8,244.7L231.6,239.1L232.2,228.7L232.6,220.7L233.5,213L234.2,199.9L234.4,186.7L234.8,160.7L235.4,130.7L235.8,118.7L235.9,100.7L242.4,100.7L242.4,118.7L242.9,140.7L243.3,160.7L244,186.7L245.3,199.9L247.2,213L248.5,220.7L249.9,229.7L251.2,237.8L253.4,246.7L256.1,254.2L258.4,260.7L261,265.2L263.4,265.2L266.4,263.9L268.5,263.7L270.9,265.1L274.6,266.7L279.4,267.5L285.2,267.9L291.4,268.4L297.4,268.8L302.4,269.5L308,270.3L310.4,268.7L312.6,264.5L314.4,260.7L316.4,258.1L318.4,259L320.2,260.9L322.4,265.7L324.7,270.3L327.7,272.7L332.4,273.1L338.4,273.3L349.8,273.7L350.9,275.2L352.4,275.7L374.6,275.9L375.5,275.9L375.5,277.6Z" fill="none" stroke="#000" stroke-opacity="0.12" stroke-width="1.4" clip-path="url(#s3)"/><rect x="49.7" y="276.2" width="325.8" height="1.4" fill="#000" opacity="0.3"/></g><text x="287" y="206.4" font-size="14" fill="#22a85c" stroke="#22a85c" stroke-width="0.1" letter-spacing="1.0">太阳光曲线</text><path d="M54.6,239.3L55.5,239.1L56.5,238.7L57.5,238.4L58.5,238.1L59.5,237.8L60.5,237.5L61.5,237.2L62.5,236.9L63.5,236.6L64.5,236.3L65.5,236L66.5,235.7L67.5,235.4L68.5,235.1L69.5,234.8L70.5,234.5L71.5,234.3L72.5,234L73.5,233.7L74.5,233.4L75.5,233.1L76.5,232.8L77.5,232.6L78.5,232.3L79.5,232L80.5,231.8L81.5,231.5L82.5,231.2L83.5,231L84.5,230.7L85.5,230.5L86.5,230.2L87.5,230L88.5,229.8L89.5,229.5L90.5,229.3L91.5,229.1L92.5,228.9L93.5,228.6L94.5,228.4L95.5,228.2L96.5,228L97.5,227.8L98.5,227.6L99.5,227.4L100.5,227.2L101.5,227L102.5,226.8L103.5,226.6L104.5,226.5L105.5,226.3L106.5,226.1L107.5,225.9L108.5,225.8L109.5,225.6L110.5,225.4L111.5,225.3L112.5,225.1L113.5,225L114.5,224.8L115.5,224.7L116.5,224.5L117.5,224.4L118.5,224.2L119.5,224.1L120.5,223.9L121.5,223.8L122.5,223.7L123.5,223.5L124.5,223.4L125.5,223.3L126.5,223.1L127.5,223L128.5,222.9L129.5,222.8L130.5,222.6L131.5,222.5L132.5,222.4L133.5,222.3L134.5,222.2L135.5,222L136.5,221.9L137.5,221.8L138.5,221.7L139.5,221.6L140.5,221.5L141.5,221.3L142.5,221.2L143.5,221.1L144.5,221L145.5,220.9L146.5,220.8L147.5,220.7L148.5,220.6L149.5,220.5L150.5,220.4L151.5,220.3L152.5,220.2L153.5,220.1L154.5,220L155.5,219.9L156.5,219.8L157.5,219.7L158.5,219.7L159.5,219.6L160.5,219.5L161.5,219.4L162.5,219.3L163.5,219.2L164.5,219.2L165.5,219.1L166.5,219L167.5,218.9L168.5,218.8L169.5,218.8L170.5,218.7L171.5,218.6L172.5,218.6L173.5,218.5L174.5,218.4L175.5,218.4L176.5,218.3L177.5,218.2L178.5,218.2L179.5,218.1L180.5,218.1L181.5,218L182.5,217.9L183.5,217.9L184.5,217.8L185.5,217.8L186.5,217.7L187.5,217.7L188.5,217.6L189.5,217.6L190.5,217.6L191.5,217.5L192.5,217.5L193.5,217.4L194.5,217.4L195.5,217.4L196.5,217.3L197.5,217.3L198.5,217.3L199.5,217.2L200.5,217.2L201.5,217.2L202.5,217.1L203.5,217.1L204.5,217.1L205.5,217.1L206.5,217.1L207.5,217L208.5,217L209.5,217L210.5,217L211.5,217L212.5,217L213.5,217L214.5,217L215.5,216.9L216.5,216.9L217.5,216.9L218.5,216.9L219.5,216.9L220.5,216.9L221.5,216.9L222.5,216.9L223.5,216.9L224.5,217L225.5,217L226.5,217L227.5,217L228.5,217L229.5,217L230.5,217L231.5,217.1L232.5,217.1L233.5,217.1L234.5,217.1L235.5,217.1L236.5,217.2L237.5,217.2L238.5,217.2L239.5,217.3L240.5,217.3L241.5,217.3L242.5,217.4L243.5,217.4L244.5,217.4L245.5,217.5L246.5,217.5L247.5,217.6L248.5,217.6L249.5,217.7L250.5,217.7L251.5,217.8L252.5,217.8L253.5,217.9L254.5,217.9L255.5,218L256.5,218L257.5,218.1L258.5,218.1L259.5,218.2L260.5,218.3L261.5,218.3L262.5,218.4L263.5,218.5L264.5,218.5L265.5,218.6L266.5,218.7L267.5,218.7L268.5,218.8L269.5,218.9L270.5,218.9L271.5,219L272.5,219.1L273.5,219.2L274.5,219.2L275.5,219.3L276.5,219.4L277.5,219.5L278.5,219.5L279.5,219.6L280.5,219.7L281.5,219.8L282.5,219.8L283.5,219.9L284.5,220L285.5,220.1L286.5,220.1L287.5,220.2L288.5,220.3L289.5,220.4L290.5,220.4L291.5,220.5L292.5,220.6L293.5,220.7L294.5,220.7L295.5,220.8L296.5,220.9L297.5,220.9L298.5,221L299.5,221.1L300.5,221.2L301.5,221.2L302.5,221.3L303.5,221.4L304.5,221.4L305.5,221.5L306.5,221.6L307.5,221.6L308.5,221.7L309.5,221.8L310.5,221.9L311.5,221.9L312.5,222L313.5,222.1L314.5,222.1L315.5,222.2L316.5,222.3L317.5,222.4L318.5,222.4L319.5,222.5L320.5,222.6L321.5,222.7L322.5,222.7L323.5,222.8L324.5,222.9L325.5,223L326.5,223L327.5,223.1L328.5,223.2L329.5,223.3L330.5,223.4L331.5,223.4L332.5,223.5L333.5,223.6L334.5,223.7L335.5,223.8L336.5,223.9L337.5,223.9L338.5,224L339.5,224.1L340.5,224.2L341.5,224.3L342.5,224.4L343.5,224.5L344.5,224.6L345.5,224.7L346.5,224.7L347.5,224.8L348.5,224.9L349.5,225L350.5,225.1L351.5,225.2L352.5,225.3L353.5,225.4L354.5,225.5L355.5,225.6L356.5,225.7L357.5,225.8L358.5,225.9L359.5,226L360.5,226.1L361.5,226.2L362.5,226.3L363.5,226.4L364.5,226.5L365.5,226.6L366.5,226.7L367.5,226.8L368.5,226.9L369.5,227L370.5,227.1L371.5,227.2L372.5,227.3L373.5,227.4L374.5,227.5L374.7,227.5" stroke="#5a0c1a" stroke-width="2.4" stroke-linecap="round" stroke-dasharray="0 4.6" fill="none" transform="translate(0,0.6)"/><text transform="translate(59.9,145.8) scale(1.07,1)" font-size="18" fill="#111" stroke="#111" stroke-width="0.2" letter-spacing="-0.1">荧光灯</text><text transform="translate(123.4,145.8) scale(1.07,1)" font-size="18" fill="#111" stroke="#111" stroke-width="0.2" letter-spacing="1.1">频闪严重</text><g stroke="#6e6e6e" stroke-width="1.05" fill="none"><path d="M50.7,282.2H375"/><path d="M50.9,282V296.4"/><path d="M65.9,282V296.4"/><path d="M108.9,282V290.4"/><path d="M149.9,282V296.4"/><path d="M192.9,282V290.4"/><path d="M234.9,282V296.4"/><path d="M276.9,282V290.4"/><path d="M318.9,282V296.4"/><path d="M360.9,282V290.4"/><path d="M374.9,282V296.4"/></g><g font-size="14.5" fill="#858585" text-anchor="middle"><text transform="translate(66.6,309.2) scale(0.9,1)">400</text><text transform="translate(108.7,309.2) scale(0.9,1)">450</text><text transform="translate(150.6,309.2) scale(0.9,1)">500</text><text transform="translate(192.9,309.2) scale(0.9,1)">550</text><text transform="translate(235.5,309.2) scale(0.9,1)">600</text><text transform="translate(277.4,309.2) scale(0.9,1)">650</text><text transform="translate(319.5,309.2) scale(0.9,1)">700</text><text transform="translate(361.5,309.2) scale(0.9,1)">750</text></g></g></svg>
</body></html>
